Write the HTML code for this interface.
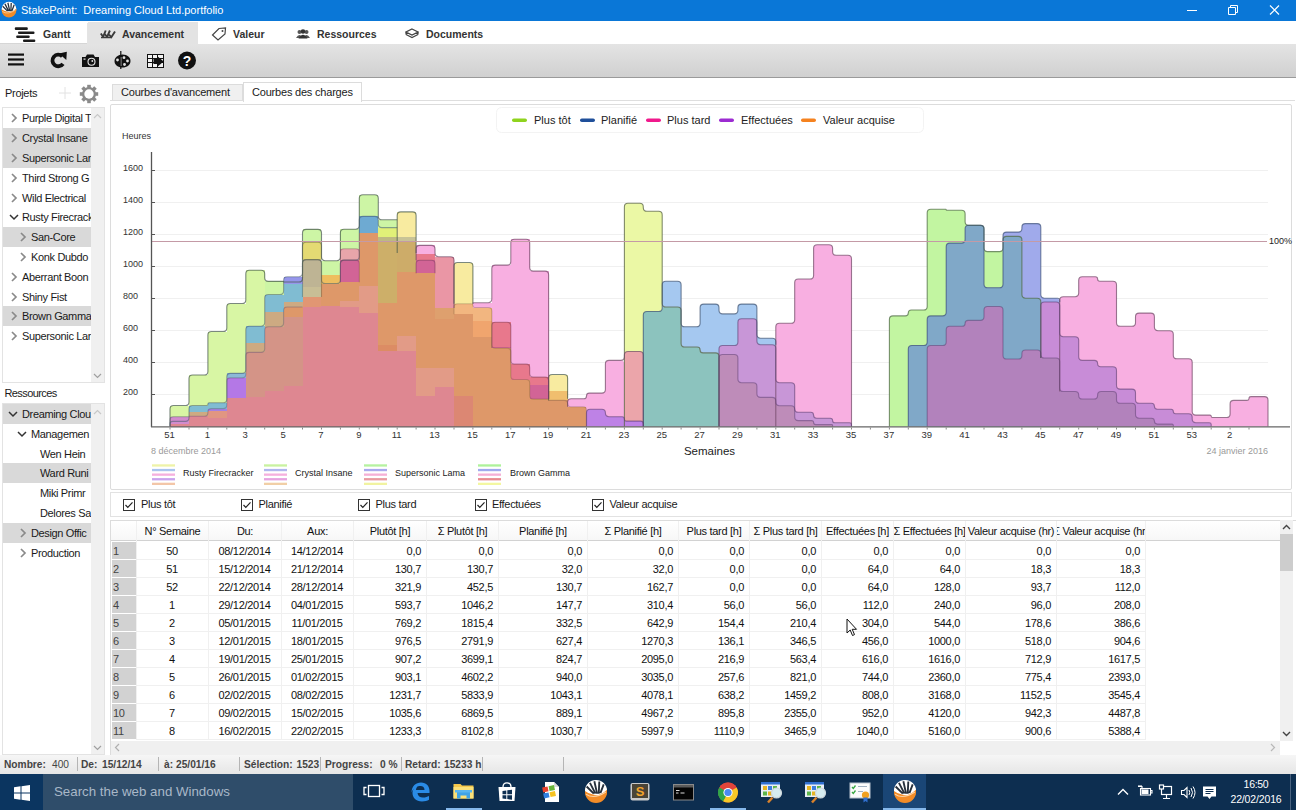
<!DOCTYPE html><html><head><meta charset="utf-8"><title>StakePoint</title><style>
*{box-sizing:border-box;margin:0;padding:0}
html,body{width:1296px;height:810px;overflow:hidden;background:#fff;font-family:"Liberation Sans",sans-serif;color:#222}
.abs{position:absolute}
#titlebar{position:absolute;left:0;top:0;width:1296px;height:21px;background:#0a77d7;color:#fff;font-size:11px}
#titlebar .t{position:absolute;left:21px;top:4px;white-space:nowrap}
#tabs{position:absolute;left:0;top:21px;width:1296px;height:23px;background:#fff}
#tabs .sel{position:absolute;left:88px;top:1px;width:110px;height:22px;background:#e3e3e3}
#tabs .lab{position:absolute;top:7px;font-size:10.5px;font-weight:bold;color:#333;white-space:nowrap}
#toolbar{position:absolute;left:0;top:44px;width:1296px;height:34px;background:linear-gradient(#e4e4e4,#d0d0d0);border-bottom:1px solid #9a9a9a}
#status{position:absolute;left:0;top:755px;width:1296px;height:19px;background:linear-gradient(#f6f6f6,#e6e6e6);font-size:10.2px;font-weight:bold;color:#444}
#status span{position:absolute;top:3.500px;white-space:nowrap}
#status i{position:absolute;top:2px;width:1px;height:14px;background:#b5b5b5}
#taskbar{position:absolute;left:0;top:774px;width:1296px;height:36px;background:#0d2e50}
.side{position:absolute;font-size:11px;letter-spacing:-.3px;color:#1a1a1a;white-space:nowrap}
.row{position:absolute;left:0;height:20px;line-height:20px;white-space:nowrap;overflow:hidden}
.rowsel{background:#d9d9d9}
.chev{position:absolute;top:0;left:0}
td,th{font-weight:normal}
.cell{position:absolute;font-size:11px;letter-spacing:-.3px;color:#111;white-space:nowrap;height:18px;line-height:18px}
</style></head><body>
<div id="titlebar">
<svg class="abs" style="left:0;top:0" width="20" height="21" viewBox="0 0 20 21"><g transform="translate(9 10) scale(.74)"><circle cx="0" cy="0" r="10" fill="#f28c28"/><path d="M-10 -1 A10 10 0 0 1 10 -1 Q4 4 -2 2.500 Q-7 1.500 -10 -1Z" fill="#fff"/><path d="M-8.500 -5 L-2 1.500 M-5.500 -8.300 L-0.500 1.500 M-1.500 -9.800 L1 1.500 M3 -9.500 L2.500 1.500 M7 -7 L4 1" stroke="#26303c" stroke-width="1.700" fill="none"/><path d="M-10 0 Q-3 5 3 2.500 Q7 1 10 -2 A10 10 0 0 1 -10 0Z" fill="#f28c28"/><path d="M-9 2 Q-2 7 9 0" stroke="#fbd3a6" stroke-width="1" fill="none"/></g></svg>
<div class="t">StakePoint:&nbsp; Dreaming Cloud Ltd.portfolio</div>
<svg class="abs" style="left:1180px;top:0" width="116" height="21" viewBox="0 0 116 21"><path d="M7 10.5h10" stroke="#fff" stroke-width="1"/><path d="M48.5 7.5h7v7h-7z M50.5 7.5v-2h7v7h-2" fill="none" stroke="#fff" stroke-width="1"/><path d="M90 5.5l9 9M99 5.5l-9 9" stroke="#fff" stroke-width="1.2"/></svg>
</div>
<div id="tabs"><div class="sel"></div>
<div class="abs" style="left:0;top:22px;width:88px;height:1px;background:#d6d6d6"></div><div class="abs" style="left:87px;top:2px;width:1px;height:21px;background:#e4e4e4"></div>
<svg class="abs" style="left:14px;top:6px" width="24" height="16" viewBox="0 0 24 16"><g fill="#1c1c1c"><rect x="0.800" y="0.300" width="13" height="2.600" rx="1"/><rect x="4" y="4.400" width="16.500" height="2.600" rx="1"/><rect x="2.200" y="8.500" width="13.500" height="2.600" rx="1"/><rect x="9" y="12.500" width="12.300" height="2.600" rx="1"/></g></svg>
<div class="lab" style="left:43px">Gantt</div>
<svg class="abs" style="left:100px;top:8px" width="16" height="10" viewBox="0 0 16 10"><g fill="none" stroke="#3a3a3a" stroke-width="1.900" stroke-linejoin="round"><path d="M0.800 4.500 l2.300 3.300 l2.600 -6.300"/><path d="M4.800 5 l2.300 3 l2.800 -6.500"/><path d="M9 5.500 l2.300 2.700 l3.700 -5.700"/></g><path d="M1 8.500 h11" stroke="#3a3a3a" stroke-width="1.500"/></svg>
<div class="lab" style="left:122px">Avancement</div>
<svg class="abs" style="left:211px;top:6px" width="16" height="14" viewBox="0 0 16 14"><path d="M8 1.5 L14.5 1 L14 7 L7 13 L1.5 8Z" fill="none" stroke="#444" stroke-width="1.2"/><circle cx="11.5" cy="4" r="1" fill="#444"/></svg>
<div class="lab" style="left:233px">Valeur</div>
<svg class="abs" style="left:296px;top:8px" width="14" height="10" viewBox="0 0 14 10"><circle cx="3.5" cy="3" r="2" fill="#555"/><circle cx="10.5" cy="3" r="2" fill="#555"/><circle cx="7" cy="2.5" r="2.3" fill="#333"/><path d="M0 9 Q3.5 3 7 9Z M7 9 Q10.5 3 14 9Z" fill="#555"/><path d="M2.5 9.5 Q7 2 11.5 9.5Z" fill="#333"/></svg>
<div class="lab" style="left:317px">Ressources</div>
<svg class="abs" style="left:405px;top:7px" width="14" height="12" viewBox="0 0 14 12"><path d="M7 1 L13 4 L7 7 L1 4Z M1 6.5 L7 9.5 L13 6.5 M1 4v2.5 M13 4v2.5" fill="none" stroke="#444" stroke-width="1.2"/></svg>
<div class="lab" style="left:426px">Documents</div>
</div>
<div id="toolbar">
<svg class="abs" style="left:0;top:0" width="210" height="33" viewBox="0 0 210 33">
<g fill="#111"><rect x="8" y="9.5" width="16" height="2.2"/><rect x="8" y="14.4" width="16" height="2.2"/><rect x="8" y="19.3" width="16" height="2.2"/></g>
<path d="M62.300 12.300 A5.800 5.800 0 1 0 63 19.800" fill="none" stroke="#111" stroke-width="3.800"/><path d="M59 9.500 L66.800 7.800 L66.300 16Z" fill="#111"/>
<path d="M82 13h3.500l1.500-2.500h6.500l1.500 2.500h4v10H82z" fill="#111"/><circle cx="91.500" cy="17.800" r="3.500" fill="#111" stroke="#e6e6e6" stroke-width="1.100"/><circle cx="92.300" cy="17" r="0.900" fill="#e6e6e6"/><rect x="83.500" y="14.500" width="2" height="1.200" fill="#e6e6e6"/>
<path d="M122.500 10.500 C127.500 10.500 130.500 13.500 130.500 17 C130.500 21 127 23.500 122.500 23.500 C118 23.500 114.500 21 114.500 17 C114.500 13.500 118 10.500 122.500 10.500Z" fill="#111"/><circle cx="117.500" cy="16" r="1.400" fill="#e0e0e0"/><circle cx="124" cy="13.700" r="1.400" fill="#e0e0e0"/><circle cx="127.500" cy="17" r="1.400" fill="#e0e0e0"/><circle cx="124.500" cy="20.500" r="1.400" fill="#e0e0e0"/><rect x="120" y="13" width="1.600" height="9" fill="#e0e0e0"/><rect x="120.200" y="7" width="1.200" height="18" fill="#111"/>
<g shape-rendering="crispEdges"><rect x="147" y="10" width="16" height="13" fill="#f2f2f2" stroke="#111" stroke-width="1"/><path d="M147 14.500h16 M147 18.500h16 M152.500 10v13 M157.500 10v13" stroke="#111" stroke-width="1" fill="none"/></g><path d="M153.500 15 h4.500 v-2.300 l5.700 4.800 l-5.700 4.800 v-2.300 h-4.500z" fill="#111"/>
<circle cx="187" cy="16.5" r="9" fill="#111"/><text x="187" y="21.5" font-size="14" font-weight="bold" fill="#fff" text-anchor="middle" font-family="Liberation Sans, sans-serif">?</text>
</svg></div>
<div class="abs" style="left:0;top:78px;width:1296px;height:677px;background:#fff"></div>
<div class="side" style="left:5px;top:86.500px">Projets</div>
<svg class="abs" style="left:58px;top:86px" width="14" height="14" viewBox="0 0 14 14"><path d="M7 1v12M1 7h12" stroke="#e2e2e2" stroke-width="1"/></svg>
<svg class="abs" style="left:79px;top:84px" width="20" height="20" viewBox="0 0 20 20"><g fill="#8a8a8a"><circle cx="10" cy="10" r="7"/><rect x="8.2" y="0.8" width="3.6" height="4" transform="rotate(0 10 10)"/><rect x="8.2" y="0.8" width="3.6" height="4" transform="rotate(45 10 10)"/><rect x="8.2" y="0.8" width="3.6" height="4" transform="rotate(90 10 10)"/><rect x="8.2" y="0.8" width="3.6" height="4" transform="rotate(135 10 10)"/><rect x="8.2" y="0.8" width="3.6" height="4" transform="rotate(180 10 10)"/><rect x="8.2" y="0.8" width="3.6" height="4" transform="rotate(225 10 10)"/><rect x="8.2" y="0.8" width="3.6" height="4" transform="rotate(270 10 10)"/><rect x="8.2" y="0.8" width="3.6" height="4" transform="rotate(315 10 10)"/></g><circle cx="10" cy="10" r="4.700" fill="#fff"/></svg>
<div class="abs" style="left:2px;top:106.500px;width:103px;height:276.500px;border:1px solid #e3e3e3;background:#fff"></div>
<div class="abs" style="left:91px;top:107.500px;width:13px;height:274.500px;background:#f0f0f0"></div>
<svg class="abs" style="left:93px;top:112.500px" width="9" height="6" viewBox="0 0 9 6"><path d="M1 5 L4.5 1.5 L8 5" fill="none" stroke="#c8c8c8" stroke-width="1.2"/></svg>
<svg class="abs" style="left:93px;top:373px" width="9" height="6" viewBox="0 0 9 6"><path d="M1 1 L4.5 4.5 L8 1" fill="none" stroke="#a0a0a0" stroke-width="1.2"/></svg>
<div class="abs" style="left:3px;top:107px;width:88px;height:275px;overflow:hidden;font-size:11px;letter-spacing:-.35px;color:#1a1a1a">
<div class="row" style="top:1.3px;width:88px">
<svg class="abs" style="left:7px;top:5px" width="8" height="10" viewBox="0 0 8 10"><path d="M2 1 L6 5 L2 9" fill="none" stroke="#8a8a8a" stroke-width="1.700"/></svg>
<span style="position:absolute;left:19px">Purple Digital T</span></div>
<div class="row rowsel" style="top:21.1px;width:88px">
<svg class="abs" style="left:7px;top:5px" width="8" height="10" viewBox="0 0 8 10"><path d="M2 1 L6 5 L2 9" fill="none" stroke="#8a8a8a" stroke-width="1.700"/></svg>
<span style="position:absolute;left:19px">Crystal Insane</span></div>
<div class="row rowsel" style="top:40.9px;width:88px">
<svg class="abs" style="left:7px;top:5px" width="8" height="10" viewBox="0 0 8 10"><path d="M2 1 L6 5 L2 9" fill="none" stroke="#8a8a8a" stroke-width="1.700"/></svg>
<span style="position:absolute;left:19px">Supersonic Lar</span></div>
<div class="row" style="top:60.7px;width:88px">
<svg class="abs" style="left:7px;top:5px" width="8" height="10" viewBox="0 0 8 10"><path d="M2 1 L6 5 L2 9" fill="none" stroke="#8a8a8a" stroke-width="1.700"/></svg>
<span style="position:absolute;left:19px">Third Strong G</span></div>
<div class="row" style="top:80.5px;width:88px">
<svg class="abs" style="left:7px;top:5px" width="8" height="10" viewBox="0 0 8 10"><path d="M2 1 L6 5 L2 9" fill="none" stroke="#8a8a8a" stroke-width="1.700"/></svg>
<span style="position:absolute;left:19px">Wild Electrical</span></div>
<div class="row" style="top:100.3px;width:88px">
<svg class="abs" style="left:6px;top:6px" width="10" height="8" viewBox="0 0 10 8"><path d="M1 2 L5 6 L9 2" fill="none" stroke="#333" stroke-width="1.5"/></svg>
<span style="position:absolute;left:19px">Rusty Firecrack</span></div>
<div class="row rowsel" style="top:120.1px;width:88px">
<svg class="abs" style="left:16px;top:5px" width="8" height="10" viewBox="0 0 8 10"><path d="M2 1 L6 5 L2 9" fill="none" stroke="#8a8a8a" stroke-width="1.700"/></svg>
<span style="position:absolute;left:28px">San-Core</span></div>
<div class="row" style="top:139.9px;width:88px">
<svg class="abs" style="left:16px;top:5px" width="8" height="10" viewBox="0 0 8 10"><path d="M2 1 L6 5 L2 9" fill="none" stroke="#8a8a8a" stroke-width="1.700"/></svg>
<span style="position:absolute;left:28px">Konk Dubdo</span></div>
<div class="row" style="top:159.7px;width:88px">
<svg class="abs" style="left:7px;top:5px" width="8" height="10" viewBox="0 0 8 10"><path d="M2 1 L6 5 L2 9" fill="none" stroke="#8a8a8a" stroke-width="1.700"/></svg>
<span style="position:absolute;left:19px">Aberrant Boon</span></div>
<div class="row" style="top:179.5px;width:88px">
<svg class="abs" style="left:7px;top:5px" width="8" height="10" viewBox="0 0 8 10"><path d="M2 1 L6 5 L2 9" fill="none" stroke="#8a8a8a" stroke-width="1.700"/></svg>
<span style="position:absolute;left:19px">Shiny Fist</span></div>
<div class="row rowsel" style="top:199.3px;width:88px">
<svg class="abs" style="left:7px;top:5px" width="8" height="10" viewBox="0 0 8 10"><path d="M2 1 L6 5 L2 9" fill="none" stroke="#8a8a8a" stroke-width="1.700"/></svg>
<span style="position:absolute;left:19px">Brown Gamma</span></div>
<div class="row" style="top:219.1px;width:88px">
<svg class="abs" style="left:7px;top:5px" width="8" height="10" viewBox="0 0 8 10"><path d="M2 1 L6 5 L2 9" fill="none" stroke="#8a8a8a" stroke-width="1.700"/></svg>
<span style="position:absolute;left:19px">Supersonic Lar</span></div>
</div>
<div class="side" style="left:4.500px;top:386.500px;letter-spacing:-.6px">Ressources</div>
<div class="abs" style="left:2px;top:403px;width:103px;height:352px;border:1px solid #e3e3e3;background:#fff"></div>
<div class="abs" style="left:91px;top:404px;width:13px;height:350px;background:#f0f0f0"></div>
<svg class="abs" style="left:93px;top:409px" width="9" height="6" viewBox="0 0 9 6"><path d="M1 5 L4.5 1.5 L8 5" fill="none" stroke="#c8c8c8" stroke-width="1.2"/></svg>
<svg class="abs" style="left:93px;top:745px" width="9" height="6" viewBox="0 0 9 6"><path d="M1 1 L4.5 4.500 L8 1" fill="none" stroke="#a0a0a0" stroke-width="1.2"/></svg>
<div class="abs" style="left:3px;top:404px;width:88px;height:350px;overflow:hidden;font-size:11px;letter-spacing:-.35px;color:#1a1a1a">
<div class="row rowsel" style="top:0.0px;width:88px">
<svg class="abs" style="left:5px;top:6px" width="10" height="8" viewBox="0 0 10 8"><path d="M1 2 L5 6 L9 2" fill="none" stroke="#333" stroke-width="1.5"/></svg>
<span style="position:absolute;left:19px">Dreaming Clou</span></div>
<div class="row" style="top:19.8px;width:88px">
<svg class="abs" style="left:14px;top:6px" width="10" height="8" viewBox="0 0 10 8"><path d="M1 2 L5 6 L9 2" fill="none" stroke="#333" stroke-width="1.5"/></svg>
<span style="position:absolute;left:28px">Managemen</span></div>
<div class="row" style="top:39.6px;width:88px">
<span style="position:absolute;left:37px">Wen Hein</span></div>
<div class="row rowsel" style="top:59.4px;width:88px">
<span style="position:absolute;left:37px">Ward Runi</span></div>
<div class="row" style="top:79.2px;width:88px">
<span style="position:absolute;left:37px">Miki Primr</span></div>
<div class="row" style="top:99.0px;width:88px">
<span style="position:absolute;left:37px">Delores Sar</span></div>
<div class="row rowsel" style="top:118.8px;width:88px">
<svg class="abs" style="left:16px;top:5px" width="8" height="10" viewBox="0 0 8 10"><path d="M2 1 L6 5 L2 9" fill="none" stroke="#8a8a8a" stroke-width="1.700"/></svg>
<span style="position:absolute;left:28px">Design Offic</span></div>
<div class="row" style="top:138.6px;width:88px">
<svg class="abs" style="left:16px;top:5px" width="8" height="10" viewBox="0 0 8 10"><path d="M2 1 L6 5 L2 9" fill="none" stroke="#8a8a8a" stroke-width="1.700"/></svg>
<span style="position:absolute;left:28px">Production</span></div>
</div>
<div class="abs" style="left:110px;top:100px;width:1185px;height:1px;background:#dedede"></div>
<div class="abs" style="left:112px;top:84px;width:131px;height:16px;background:#f0f0f0;border:1px solid #dcdcdc;border-bottom:none"></div>
<div class="abs" style="left:243px;top:82px;width:119px;height:20px;background:#fff;border:1px solid #dcdcdc;border-bottom:none"></div>
<div class="side" style="left:121px;top:86px;letter-spacing:-.2px">Courbes d'avancement</div>
<div class="side" style="left:252px;top:86px;letter-spacing:-.2px">Courbes des charges</div>
<div class="abs" style="left:110px;top:104px;width:1182px;height:386px;border:1px solid #dcdcdc;background:#fff;border-radius:2px"></div>
<svg class="abs" style="left:0;top:0" width="1296" height="500" viewBox="0 0 1296 500" font-family="Liberation Sans, sans-serif">
<rect x="496.5" y="107.5" width="427" height="25" rx="5" fill="#fff" stroke="#f3f3f3"/>
<rect x="512" y="118.500" width="15" height="3.600" rx="1.800" fill="#8fd31e"/>
<text x="534" y="124.300" font-size="11" fill="#222">Plus tôt</text>
<rect x="580" y="118.500" width="15" height="3.600" rx="1.800" fill="#1f4f9a"/>
<text x="601" y="124.300" font-size="11" fill="#222">Planifié</text>
<rect x="646" y="118.500" width="15" height="3.600" rx="1.800" fill="#f0198c"/>
<text x="667" y="124.300" font-size="11" fill="#222">Plus tard</text>
<rect x="719" y="118.500" width="15" height="3.600" rx="1.800" fill="#9c2bd1"/>
<text x="741" y="124.300" font-size="11" fill="#222">Effectuées</text>
<rect x="801" y="118.500" width="15" height="3.600" rx="1.800" fill="#f5821f"/>
<text x="823" y="124.300" font-size="11" fill="#222">Valeur acquise</text>
<path d="M151 394.5 H1268" stroke="#f0f0f0" stroke-width="1"/>
<path d="M151 362.5 H1268" stroke="#f0f0f0" stroke-width="1"/>
<path d="M151 330.5 H1268" stroke="#f0f0f0" stroke-width="1"/>
<path d="M151 298.5 H1268" stroke="#f0f0f0" stroke-width="1"/>
<path d="M151 266.5 H1268" stroke="#f0f0f0" stroke-width="1"/>
<path d="M151 234.5 H1268" stroke="#f0f0f0" stroke-width="1"/>
<path d="M151 202.5 H1268" stroke="#f0f0f0" stroke-width="1"/>
<path d="M151 170.5 H1268" stroke="#f0f0f0" stroke-width="1"/>
<text x="122" y="139" font-size="9" fill="#333">Heures</text>
<text x="123" y="395.1" font-size="9" fill="#333">200</text>
<text x="123" y="363.1" font-size="9" fill="#333">400</text>
<text x="123" y="331.1" font-size="9" fill="#333">600</text>
<text x="123" y="299.1" font-size="9" fill="#333">800</text>
<text x="123" y="267.1" font-size="9" fill="#333">1000</text>
<text x="123" y="235.1" font-size="9" fill="#333">1200</text>
<text x="123" y="203.1" font-size="9" fill="#333">1400</text>
<text x="123" y="171.1" font-size="9" fill="#333">1600</text>
<path d="M624.4 426.5 L624.4 206.9 Q624.4 203.3 628 203.3 L639.7 203.3 Q643.3 203.3 643.3 206.9 L643.3 207.7 Q643.3 211.3 646.9 211.3 L658.6 211.3 Q662.2 211.3 662.2 214.9 L662.2 303.4 Q662.2 307 665.8 307 L677.5 307 Q681.1 307 681.1 310.6 L681.1 343.4 Q681.1 347 684.7 347 L697.1 347 Q700.1 347 700.1 349.9 L700.1 349.9 Q700.1 352.9 703 352.9 L715.4 352.9 Q719 352.9 719 356.5 L719 426.5 Z" fill="rgb(235,248,165)"/>
<path d="M567.6 426.5 L567.6 402.3 Q567.6 398.7 571.2 398.7 L583.7 398.7 Q586.5 398.7 586.5 395.9 L586.5 395.9 Q586.5 393.1 589.3 393.1 L601.8 393.1 Q605.4 393.1 605.4 389.5 L605.4 364 Q605.4 360.4 609 360.4 L620.8 360.4 Q624.4 360.4 624.4 364 L624.4 426.5 Z" fill="rgb(248,175,225)"/>
<path d="M624.4 426.5 L624.4 355.1 Q624.4 351.5 628 351.5 L639.7 351.5 Q643.3 351.5 643.3 355.1 L643.3 426.5 Z" fill="rgb(235,165,170)"/>
<path d="M775.8 426.5 L775.8 326.9 Q775.8 323.3 779.4 323.3 L791.1 323.3 Q794.7 323.3 794.7 319.7 L794.7 282.6 Q794.7 279 798.3 279 L810 279 Q813.6 279 813.6 275.4 L813.6 248.3 Q813.6 244.7 817.2 244.7 L829 244.7 Q832.6 244.7 832.6 248.3 L832.6 251.7 Q832.6 255.3 836.2 255.3 L847.9 255.3 Q851.5 255.3 851.5 258.9 L851.5 426.5 Z" fill="rgb(248,175,225)"/>
<path d="M643.3 426.5 L643.3 315.1 Q643.3 311.5 646.9 311.5 L658.6 311.5 Q662.2 311.5 662.2 307.9 L662.2 284.8 Q662.2 281.2 665.8 281.2 L677.5 281.2 Q681.1 281.2 681.1 284.8 L681.1 323.2 Q681.1 326.8 684.7 326.8 L696.5 326.8 Q700.1 326.8 700.1 323.2 L700.1 307.7 Q700.1 304.1 703.7 304.1 L715.4 304.1 Q719 304.1 719 307.7 L719 310.3 Q719 313.9 722.6 313.9 L734.3 313.9 Q737.9 313.9 737.9 310.3 L737.9 307.7 Q737.9 304.1 741.5 304.1 L753.3 304.1 Q756.9 304.1 756.9 307.7 L756.9 334.6 Q756.9 338.2 760.5 338.2 L772.2 338.2 Q775.8 338.2 775.8 341.8 L775.8 426.5 Z" fill="rgb(165,200,240)"/>
<path d="M643.3 426.5 L643.3 315.1 Q643.3 311.5 646.9 311.5 L660 311.5 Q662.2 311.5 662.2 309.2 L662.2 309.2 Q662.2 307 664.5 307 L677.5 307 Q681.1 307 681.1 310.6 L681.1 343.4 Q681.1 347 684.7 347 L697.1 347 Q700.1 347 700.1 349.9 L700.1 349.9 Q700.1 352.9 703 352.9 L715.4 352.9 Q719 352.9 719 356.5 L719 426.5 Z" fill="rgb(140,195,190)"/>
<path d="M586.5 426.5 L586.5 412.8 Q586.5 409.2 590.1 409.2 L601.8 409.2 Q605.4 409.2 605.4 412.8 L605.4 413.1 Q605.4 416.7 609 416.7 L622.2 416.7 Q624.4 416.7 624.4 418.9 L624.4 418.9 Q624.4 421.1 626.5 421.1 L640.6 421.1 Q643.3 421.1 643.3 423.8 L643.3 426.5 Z" fill="rgb(190,130,230)"/>
<path d="M719 426.5 L719 349.1 Q719 345.5 722.6 345.5 L734.3 345.5 Q737.9 345.5 737.9 341.9 L737.9 322.4 Q737.9 318.8 741.5 318.8 L753.3 318.8 Q756.9 318.8 756.9 322.4 L756.9 341.1 Q756.9 344.7 760.5 344.7 L772.2 344.7 Q775.8 344.7 775.8 348.3 L775.8 379.1 Q775.8 382.7 779.4 382.7 L791.1 382.7 Q794.7 382.7 794.7 386.3 L794.7 408.7 Q794.7 412.3 798.3 412.3 L810.7 412.3 Q813.6 412.3 813.6 415.2 L813.6 415.2 Q813.6 418.2 816.6 418.2 L830.3 418.2 Q832.6 418.2 832.6 420.4 L832.6 420.4 Q832.6 422.7 834.8 422.7 L849.6 422.7 Q851.5 422.7 851.5 424.6 L851.5 426.5 Z" fill="rgb(200,150,215)"/>
<path d="M719 426.5 L719 358.1 Q719 354.5 722.6 354.5 L734.3 354.5 Q737.9 354.5 737.9 358.1 L737.9 379.1 Q737.9 382.7 741.5 382.7 L753.3 382.7 Q756.9 382.7 756.9 386.3 L756.9 393.8 Q756.9 397.4 760.5 397.4 L772.2 397.4 Q775.8 397.4 775.8 401 L775.8 402.1 Q775.8 405.7 779.4 405.7 L791.1 405.7 Q794.7 405.7 794.7 409.3 L794.7 417 Q794.7 420.6 798.3 420.6 L811.6 420.6 Q813.6 420.6 813.6 422.6 L813.6 422.6 Q813.6 424.6 815.6 424.6 L831.6 424.6 Q832.6 424.6 832.6 425.5 L832.6 426.5 Z" fill="rgb(190,140,185)"/>
<path d="M889.4 426.5 L889.4 319.5 Q889.4 315.9 893 315.9 L905.3 315.9 Q908.3 315.9 908.3 313 L908.3 313 Q908.3 310 911.3 310 L923.6 310 Q927.2 310 927.2 306.4 L927.2 212.8 Q927.2 209.2 930.8 209.2 L945.7 209.2 Q946.2 209.2 946.2 209.7 L946.2 209.7 Q946.2 210.2 946.6 210.2 L961.5 210.2 Q965.1 210.2 965.1 213.8 L965.1 221.8 Q965.1 225.4 968.7 225.4 L980.4 225.4 Q984 225.4 984 229 L984 248 Q984 251.6 987.6 251.6 L999.4 251.6 Q1003 251.6 1003 248 L1003 240 Q1003 236.4 1006.6 236.4 L1018.3 236.4 Q1021.9 236.4 1021.9 240 L1021.9 294.6 Q1021.9 298.2 1025.5 298.2 L1037.2 298.2 Q1040.8 298.2 1040.8 301.8 L1040.8 426.5 Z" fill="rgb(194,245,161)"/>
<path d="M908.3 426.5 L908.3 349.1 Q908.3 345.5 911.9 345.5 L923.6 345.5 Q927.2 345.5 927.2 341.9 L927.2 319.5 Q927.2 315.9 930.8 315.9 L942.6 315.9 Q946.2 315.9 946.2 312.3 L946.2 246.7 Q946.2 243.1 949.8 243.1 L961.5 243.1 Q965.1 243.1 965.1 239.5 L965.1 228.8 Q965.1 225.2 968.7 225.2 L980.4 225.2 Q984 225.2 984 228.8 L984 284.2 Q984 287.8 987.6 287.8 L999.4 287.8 Q1003 287.8 1003 284.2 L1003 235.7 Q1003 232.1 1006.6 232.1 L1018.3 232.1 Q1021.9 232.1 1021.9 228.5 L1021.9 227.2 Q1021.9 223.6 1025.5 223.6 L1037.2 223.6 Q1040.8 223.6 1040.8 227.2 L1040.8 294.6 Q1040.8 298.2 1044.4 298.2 L1056.1 298.2 Q1059.7 298.2 1059.7 301.8 L1059.7 426.5 Z" fill="rgb(160,170,235)"/>
<path d="M908.3 426.5 L908.3 349.1 Q908.3 345.5 911.9 345.5 L923.6 345.5 Q927.2 345.5 927.2 341.9 L927.2 319.5 Q927.2 315.9 930.8 315.9 L942.6 315.9 Q946.2 315.9 946.2 312.3 L946.2 246.7 Q946.2 243.1 949.8 243.1 L961.5 243.1 Q965.1 243.1 965.1 239.5 L965.1 229 Q965.1 225.4 968.7 225.4 L980.4 225.4 Q984 225.4 984 229 L984 284.2 Q984 287.8 987.6 287.8 L999.4 287.8 Q1003 287.8 1003 284.2 L1003 240 Q1003 236.4 1006.6 236.4 L1018.3 236.4 Q1021.9 236.4 1021.9 240 L1021.9 294.6 Q1021.9 298.2 1025.5 298.2 L1037.2 298.2 Q1040.8 298.2 1040.8 301.8 L1040.8 426.5 Z" fill="rgb(128,168,200)"/>
<path d="M1059.7 426.5 L1059.7 300.3 Q1059.7 296.7 1063.3 296.7 L1075.1 296.7 Q1078.7 296.7 1078.7 293.1 L1078.7 280.3 Q1078.7 276.7 1082.3 276.7 L1095.4 276.7 Q1097.6 276.7 1097.6 279 L1097.6 279 Q1097.6 281.2 1099.8 281.2 L1112.9 281.2 Q1116.5 281.2 1116.5 284.8 L1116.5 322.7 Q1116.5 326.3 1120.1 326.3 L1131.9 326.3 Q1135.5 326.3 1135.5 322.7 L1135.5 316.7 Q1135.5 313.1 1139.1 313.1 L1150.8 313.1 Q1154.4 313.1 1154.4 316.7 L1154.4 327.1 Q1154.4 330.7 1158 330.7 L1169.7 330.7 Q1173.3 330.7 1173.3 334.3 L1173.3 355.2 Q1173.3 358.8 1176.9 358.8 L1188.7 358.8 Q1192.2 358.8 1192.2 362.4 L1192.2 411.5 Q1192.2 415.1 1195.8 415.1 L1210 415.1 Q1211.2 415.1 1211.2 416.3 L1211.2 416.3 Q1211.2 417.5 1212.4 417.5 L1226.5 417.5 Q1230.1 417.5 1230.1 413.9 L1230.1 404 Q1230.1 400.4 1233.7 400.4 L1247.1 400.4 Q1249 400.4 1249 398.5 L1249 398.5 Q1249 396.6 1251 396.6 L1264.4 396.6 Q1268 396.6 1268 400.2 L1268 426.5 Z" fill="rgb(248,175,225)"/>
<path d="M1040.8 426.5 L1040.8 305.6 Q1040.8 302 1044.4 302 L1056.1 302 Q1059.7 302 1059.7 305.6 L1059.7 333.1 Q1059.7 336.7 1063.3 336.7 L1075.1 336.7 Q1078.7 336.7 1078.7 340.3 L1078.7 356.8 Q1078.7 360.4 1082.3 360.4 L1094.4 360.4 Q1097.6 360.4 1097.6 363.6 L1097.6 363.6 Q1097.6 366.8 1100.8 366.8 L1112.9 366.8 Q1116.5 366.8 1116.5 370.4 L1116.5 385.5 Q1116.5 389.1 1120.1 389.1 L1131.9 389.1 Q1135.5 389.1 1135.5 392.7 L1135.5 399.7 Q1135.5 403.3 1139.1 403.3 L1151.4 403.3 Q1154.4 403.3 1154.4 406.3 L1154.4 406.3 Q1154.4 409.2 1157.3 409.2 L1171.1 409.2 Q1173.3 409.2 1173.3 411.5 L1173.3 411.5 Q1173.3 413.7 1175.6 413.7 L1188.7 413.7 Q1192.2 413.7 1192.2 417.3 L1192.2 419.1 Q1192.2 422.7 1195.8 422.7 L1209.3 422.7 Q1211.2 422.7 1211.2 424.6 L1211.2 426.5 Z" fill="rgb(200,140,215)"/>
<path d="M927.2 426.5 L927.2 349.1 Q927.2 345.5 930.8 345.5 L942.6 345.5 Q946.2 345.5 946.2 341.9 L946.2 329.9 Q946.2 326.3 949.8 326.3 L962.1 326.3 Q965.1 326.3 965.1 323.4 L965.1 323.4 Q965.1 320.4 968.1 320.4 L980.4 320.4 Q984 320.4 984 316.8 L984 310.1 Q984 306.5 987.6 306.5 L999.4 306.5 Q1003 306.5 1003 310.1 L1003 355.4 Q1003 359 1006.6 359 L1018.3 359 Q1021.9 359 1021.9 355.4 L1021.9 353.6 Q1021.9 350 1025.5 350 L1037.2 350 Q1040.8 350 1040.8 353.6 L1040.8 354.4 Q1040.8 358 1044.4 358 L1056.1 358 Q1059.7 358 1059.7 361.6 L1059.7 387.9 Q1059.7 391.5 1063.3 391.5 L1075.1 391.5 Q1078.7 391.5 1078.7 395.1 L1078.7 395.4 Q1078.7 399 1082.3 399 L1094 399 Q1097.6 399 1097.6 395.4 L1097.6 395.1 Q1097.6 391.5 1101.2 391.5 L1112.9 391.5 Q1116.5 391.5 1116.5 395.1 L1116.5 399.7 Q1116.5 403.3 1120.1 403.3 L1131.9 403.3 Q1135.5 403.3 1135.5 406.9 L1135.5 414.6 Q1135.5 418.2 1139.1 418.2 L1151.4 418.2 Q1154.4 418.2 1154.4 421.1 L1154.4 421.1 Q1154.4 424.1 1157.3 424.1 L1172.1 424.1 Q1173.3 424.1 1173.3 425.3 L1173.3 426.5 Z" fill="rgb(178,130,188)"/>
<g shape-rendering="crispEdges">
<rect x="170" y="405.5" width="19" height="21" fill="rgb(216,246,164)"/>
<rect x="170" y="416.6" width="19" height="9.9" fill="rgb(210,140,205)"/>
<rect x="170" y="423.6" width="19" height="2.9" fill="rgb(222,135,145)"/>
<rect x="189" y="375" width="19" height="51.5" fill="rgb(216,246,164)"/>
<rect x="189" y="405.5" width="19" height="21" fill="rgb(128,188,210)"/>
<rect x="189" y="411.5" width="19" height="15" fill="rgb(205,170,130)"/>
<rect x="189" y="416.3" width="19" height="10.2" fill="rgb(222,135,145)"/>
<rect x="208" y="331.5" width="19" height="95" fill="rgb(216,246,164)"/>
<rect x="208" y="402.8" width="19" height="23.7" fill="rgb(128,188,210)"/>
<rect x="208" y="408.6" width="19" height="17.9" fill="rgb(165,130,225)"/>
<rect x="208" y="411.1" width="19" height="15.4" fill="rgb(225,150,130)"/>
<rect x="208" y="417.5" width="19" height="9" fill="rgb(222,135,145)"/>
<rect x="227" y="303.5" width="19" height="123" fill="rgb(216,246,164)"/>
<rect x="227" y="373.4" width="19" height="53.1" fill="rgb(140,185,215)"/>
<rect x="227" y="377.9" width="19" height="48.6" fill="rgb(180,120,230)"/>
<rect x="227" y="398" width="19" height="28.5" fill="rgb(222,135,145)"/>
<rect x="246" y="270.2" width="19" height="156.3" fill="rgb(216,246,164)"/>
<rect x="246" y="326.2" width="19" height="100.3" fill="rgb(128,188,210)"/>
<rect x="246" y="343.1" width="19" height="83.4" fill="rgb(205,170,130)"/>
<rect x="246" y="352.4" width="19" height="74.1" fill="rgb(212,148,135)"/>
<rect x="246" y="397.2" width="19" height="29.3" fill="rgb(222,135,145)"/>
<rect x="265" y="281.4" width="19" height="145.1" fill="rgb(205,245,165)"/>
<rect x="265" y="294.5" width="19" height="132" fill="rgb(128,188,210)"/>
<rect x="265" y="311.9" width="19" height="114.6" fill="rgb(205,170,130)"/>
<rect x="265" y="326.7" width="19" height="99.8" fill="rgb(212,148,135)"/>
<rect x="265" y="390.8" width="19" height="35.7" fill="rgb(222,135,145)"/>
<rect x="284" y="276.7" width="19" height="149.8" fill="rgb(150,150,235)"/>
<rect x="284" y="284.1" width="19" height="142.4" fill="rgb(128,188,210)"/>
<rect x="284" y="302" width="19" height="124.5" fill="rgb(205,170,130)"/>
<rect x="284" y="307" width="19" height="119.5" fill="rgb(222,152,105)"/>
<rect x="284" y="316.7" width="19" height="109.8" fill="rgb(212,148,135)"/>
<rect x="284" y="385.9" width="19" height="40.6" fill="rgb(222,135,145)"/>
<rect x="303" y="229.4" width="18" height="197.1" fill="rgb(205,245,165)"/>
<rect x="303" y="242.2" width="18" height="184.3" fill="rgb(228,218,115)"/>
<rect x="303" y="259.6" width="18" height="166.9" fill="rgb(190,180,148)"/>
<rect x="303" y="287" width="18" height="139.5" fill="rgb(200,190,150)"/>
<rect x="303" y="297.1" width="18" height="129.4" fill="rgb(225,150,115)"/>
<rect x="303" y="307" width="18" height="119.5" fill="rgb(222,135,145)"/>
<rect x="321" y="260.7" width="19" height="165.8" fill="rgb(205,245,165)"/>
<rect x="321" y="274.5" width="19" height="152" fill="rgb(238,190,95)"/>
<rect x="321" y="283.5" width="19" height="143" fill="rgb(222,152,105)"/>
<rect x="321" y="305.7" width="19" height="120.8" fill="rgb(222,135,145)"/>
<rect x="340" y="229.2" width="19" height="197.3" fill="rgb(205,245,165)"/>
<rect x="340" y="248.7" width="19" height="177.8" fill="rgb(232,165,170)"/>
<rect x="340" y="260.1" width="19" height="166.4" fill="rgb(210,100,150)"/>
<rect x="340" y="282.2" width="19" height="144.3" fill="rgb(222,152,105)"/>
<rect x="340" y="300.7" width="19" height="125.8" fill="rgb(226,155,135)"/>
<rect x="340" y="307" width="19" height="119.5" fill="rgb(222,135,145)"/>
<rect x="359" y="194.7" width="19" height="231.8" fill="rgb(205,245,165)"/>
<rect x="359" y="216.4" width="19" height="210.1" fill="rgb(110,170,210)"/>
<rect x="359" y="232.9" width="19" height="193.6" fill="rgb(222,152,105)"/>
<rect x="359" y="286" width="19" height="140.5" fill="rgb(226,155,135)"/>
<rect x="359" y="313.1" width="19" height="113.4" fill="rgb(222,135,145)"/>
<rect x="378" y="219.8" width="19" height="206.7" fill="rgb(205,245,165)"/>
<rect x="378" y="227.6" width="19" height="198.9" fill="rgb(225,240,120)"/>
<rect x="378" y="237.4" width="19" height="189.1" fill="rgb(190,185,130)"/>
<rect x="378" y="240.6" width="19" height="185.9" fill="rgb(205,175,105)"/>
<rect x="378" y="303.3" width="19" height="123.2" fill="rgb(222,152,105)"/>
<rect x="378" y="345.2" width="19" height="81.3" fill="rgb(220,140,100)"/>
<rect x="378" y="351.3" width="19" height="75.2" fill="rgb(222,135,145)"/>
<rect x="397" y="211.9" width="19" height="214.6" fill="rgb(248,235,160)"/>
<rect x="397" y="237.4" width="19" height="189.1" fill="rgb(200,195,150)"/>
<rect x="397" y="240.6" width="19" height="185.9" fill="rgb(205,172,105)"/>
<rect x="397" y="272.3" width="19" height="154.2" fill="rgb(222,152,105)"/>
<rect x="397" y="336.1" width="19" height="90.4" fill="rgb(226,155,135)"/>
<rect x="397" y="351.3" width="19" height="75.2" fill="rgb(222,135,145)"/>
<rect x="416" y="245.4" width="19" height="181.1" fill="rgb(248,175,225)"/>
<rect x="416" y="254" width="19" height="172.5" fill="rgb(232,120,140)"/>
<rect x="416" y="260.3" width="19" height="166.2" fill="rgb(210,100,150)"/>
<rect x="416" y="273.2" width="19" height="153.3" fill="rgb(222,152,105)"/>
<rect x="416" y="367.8" width="19" height="58.7" fill="rgb(226,155,135)"/>
<rect x="416" y="395.5" width="19" height="31" fill="rgb(222,135,145)"/>
<rect x="435" y="256.7" width="19" height="169.8" fill="rgb(234,150,165)"/>
<rect x="435" y="308.1" width="19" height="118.4" fill="rgb(222,160,110)"/>
<rect x="435" y="319.3" width="19" height="107.2" fill="rgb(222,152,105)"/>
<rect x="435" y="367.8" width="19" height="58.7" fill="rgb(226,155,135)"/>
<rect x="435" y="386.8" width="19" height="39.7" fill="rgb(222,135,145)"/>
<rect x="454" y="262.5" width="19" height="164" fill="rgb(248,235,160)"/>
<rect x="454" y="303.8" width="19" height="122.7" fill="rgb(242,182,128)"/>
<rect x="454" y="314.3" width="19" height="112.2" fill="rgb(222,152,105)"/>
<rect x="454" y="395.5" width="19" height="31" fill="rgb(220,135,115)"/>
<rect x="473" y="302.7" width="19" height="123.8" fill="rgb(248,175,225)"/>
<rect x="473" y="307.5" width="19" height="119" fill="rgb(242,182,128)"/>
<rect x="473" y="321.1" width="19" height="105.4" fill="rgb(240,165,110)"/>
<rect x="473" y="336.6" width="19" height="89.9" fill="rgb(222,152,105)"/>
<rect x="492" y="265.1" width="19" height="161.4" fill="rgb(248,175,225)"/>
<rect x="492" y="322.3" width="19" height="104.2" fill="rgb(232,120,140)"/>
<rect x="492" y="346.5" width="19" height="80" fill="rgb(210,100,150)"/>
<rect x="492" y="348.1" width="19" height="78.4" fill="rgb(222,152,105)"/>
<rect x="511" y="239.3" width="19" height="187.2" fill="rgb(248,175,225)"/>
<rect x="511" y="364.1" width="19" height="62.4" fill="rgb(232,120,140)"/>
<rect x="511" y="379.5" width="19" height="47" fill="rgb(222,152,105)"/>
<rect x="530" y="271.1" width="19" height="155.4" fill="rgb(248,175,225)"/>
<rect x="530" y="377.1" width="19" height="49.4" fill="rgb(232,120,140)"/>
<rect x="530" y="384.9" width="19" height="41.6" fill="rgb(210,100,150)"/>
<rect x="530" y="399.1" width="19" height="27.4" fill="rgb(222,152,105)"/>
<rect x="549" y="374.5" width="19" height="52" fill="rgb(248,235,160)"/>
<rect x="549" y="391.1" width="19" height="35.4" fill="rgb(240,190,110)"/>
<rect x="549" y="400.4" width="19" height="26.1" fill="rgb(222,152,105)"/>
<rect x="568" y="398.7" width="18" height="27.8" fill="rgb(248,175,225)"/>
<rect x="568" y="406.7" width="18" height="19.8" fill="rgb(222,152,105)"/>
</g>
<path d="M170 426.5 L170 409.1 Q170 405.5 173.6 405.5 L185.4 405.5 Q189 405.5 189 401.9 L189 378.6 Q189 375 192.6 375 L204.3 375 Q207.9 375 207.9 371.4 L207.9 335.1 Q207.9 331.5 211.5 331.5 L223.2 331.5 Q226.8 331.5 226.8 327.9 L226.8 307.1 Q226.8 303.5 230.4 303.5 L242.2 303.5 Q245.8 303.5 245.8 299.9 L245.8 273.8 Q245.8 270.2 249.3 270.2 L261.1 270.2 Q264.7 270.2 264.7 273.8 L264.7 277.8 Q264.7 281.4 268.3 281.4 L283.3 281.4 Q283.6 281.4 283.6 281.7 L283.6 281.7 Q283.6 282 283.9 282 L298.9 282 Q302.5 282 302.5 278.4 L302.5 233 Q302.5 229.4 306.1 229.4 L317.9 229.4 Q321.5 229.4 321.5 233 L321.5 257.1 Q321.5 260.7 325.1 260.7 L336.8 260.7 Q340.4 260.7 340.4 257.1 L340.4 232.8 Q340.4 229.2 344 229.2 L355.7 229.2 Q359.3 229.2 359.3 225.6 L359.3 198.3 Q359.3 194.7 362.9 194.7 L374.7 194.7 Q378.3 194.7 378.3 198.3 L378.3 216.2 Q378.3 219.8 381.9 219.8 L397.2 219.8" fill="none" stroke="rgba(70,90,75,.72)" stroke-width="1.1"/>
<path d="M170 426.5 L170 423.9 Q170 421.4 172.6 421.4 L185.4 421.4 Q189 421.4 189 417.8 L189 409.1 Q189 405.5 192.6 405.5 L206.5 405.5 Q207.9 405.5 207.9 404.2 L207.9 404.2 Q207.9 402.8 209.2 402.8 L223.2 402.8 Q226.8 402.8 226.8 399.2 L226.8 377 Q226.8 373.4 230.4 373.4 L242.2 373.4 Q245.8 373.4 245.8 369.8 L245.8 329.8 Q245.8 326.2 249.3 326.2 L261.1 326.2 Q264.7 326.2 264.7 322.6 L264.7 298.1 Q264.7 294.5 268.3 294.5 L280 294.5 Q283.6 294.5 283.6 290.9 L283.6 280.3 Q283.6 276.7 287.2 276.7 L298.9 276.7 Q302.5 276.7 302.5 273.1 L302.5 263.2 Q302.5 259.6 306.1 259.6 L317.9 259.6 Q321.5 259.6 321.5 263.2 L321.5 279.9 Q321.5 283.5 325.1 283.5 L336.8 283.5 Q340.4 283.5 340.4 279.9 L340.4 263.7 Q340.4 260.1 344 260.1 L355.7 260.1 Q359.3 260.1 359.3 256.5 L359.3 220 Q359.3 216.4 362.9 216.4 L374.7 216.4 Q378.3 216.4 378.3 220 L378.3 224 Q378.3 227.6 381.9 227.6 L397.2 227.6" fill="none" stroke="rgba(70,90,110,.55)" stroke-width="1.1"/>
<path d="M170 426.5 L170 420.2 Q170 416.6 173.6 416.6 L188.8 416.6 Q189 416.6 189 416.4 L189 416.4 Q189 416.3 189.1 416.3 L204.3 416.3 Q207.9 416.3 207.9 412.7 L207.9 412.2 Q207.9 408.6 211.5 408.6 L223.2 408.6 Q226.8 408.6 226.8 405 L226.8 381.5 Q226.8 377.9 230.4 377.9 L242.2 377.9 Q245.8 377.9 245.8 374.3 L245.8 356 Q245.8 352.4 249.3 352.4 L261.1 352.4 Q264.7 352.4 264.7 348.8 L264.7 330.3 Q264.7 326.7 268.3 326.7 L280 326.7 Q283.6 326.7 283.6 323.1 L283.6 310.6 Q283.6 307 287.2 307 L302.5 307" fill="none" stroke="rgba(90,80,110,.4)" stroke-width="1.1"/>
<path d="M397.2 252.9 L397.2 215.5 Q397.2 211.9 400.8 211.9 L412.5 211.9 Q416.1 211.9 416.1 215.5 L416.1 252.9" fill="none" stroke="rgba(70,90,75,.72)" stroke-width="1.1"/>
<path d="M454 303.8 L454 266.1 Q454 262.5 457.6 262.5 L469.3 262.5 Q472.9 262.5 472.9 266.1 L472.9 303.8" fill="none" stroke="rgba(70,90,75,.72)" stroke-width="1.1"/>
<path d="M548.6 400.4 L548.6 378.1 Q548.6 374.5 552.2 374.5 L564 374.5 Q567.6 374.5 567.6 378.1 L567.6 398.7" fill="none" stroke="rgba(70,90,75,.72)" stroke-width="1.1"/>
<path d="M416.1 260.3 L416.1 249 Q416.1 245.4 419.7 245.4 L431.4 245.4 Q435 245.4 435 249 L435 253.1 Q435 256.7 438.6 256.7 L450.4 256.7 Q454 256.7 454 260.3 L454 308.1" fill="none" stroke="rgba(110,70,100,.7)" stroke-width="1.1"/>
<path d="M472.9 303.8 L472.9 303.2 Q472.9 302.7 473.5 302.7 L488.2 302.7 Q491.8 302.7 491.8 299.1 L491.8 268.7 Q491.8 265.1 495.4 265.1 L507.2 265.1 Q510.8 265.1 510.8 261.5 L510.8 242.9 Q510.8 239.3 514.4 239.3 L526.1 239.3 Q529.7 239.3 529.7 242.9 L529.7 267.5 Q529.7 271.1 533.3 271.1 L545 271.1 Q548.6 271.1 548.6 274.7 L548.6 399.1" fill="none" stroke="rgba(110,70,100,.7)" stroke-width="1.1"/>
<path d="M491.8 348.1 L491.8 325.9 Q491.8 322.3 495.4 322.3 L507.2 322.3 Q510.8 322.3 510.8 325.9 L510.8 360.5 Q510.8 364.1 514.4 364.1 L526.1 364.1 Q529.7 364.1 529.7 367.7 L529.7 373.5 Q529.7 377.1 533.3 377.1 L545 377.1 Q548.6 377.1 548.6 380.7 L548.6 399.1" fill="none" stroke="rgba(120,60,90,.5)" stroke-width="1.1"/>
<path d="M416.1 273.2 L416.1 263.9 Q416.1 260.3 419.7 260.3 L431.4 260.3 Q435 260.3 435 263.9 L435 273.2" fill="none" stroke="rgba(120,60,90,.5)" stroke-width="1.1"/>
<path d="M340.4 260.1 L340.4 252.3 Q340.4 248.7 344 248.7 L355.7 248.7 Q359.3 248.7 359.3 252.3 L359.3 260.1" fill="none" stroke="rgba(120,60,90,.4)" stroke-width="1.1"/>
<path d="M340.4 282.2 L340.4 263.7 Q340.4 260.1 344 260.1 L355.7 260.1 Q359.3 260.1 359.3 263.7 L359.3 282.2" fill="none" stroke="rgba(120,60,90,.4)" stroke-width="1.1"/>
<path d="M302.5 259.6 L302.5 245.8 Q302.5 242.2 306.1 242.2 L317.9 242.2 Q321.5 242.2 321.5 245.8 L321.5 259.6" fill="none" stroke="rgba(90,90,60,.5)" stroke-width="1.1"/>
<path d="M302.5 297.1 L302.5 263.2 Q302.5 259.6 306.1 259.6 L317.9 259.6 Q321.5 259.6 321.5 263.2 L321.5 297.1" fill="none" stroke="rgba(90,90,60,.4)" stroke-width="1.1"/>
<path d="M454 314.3 L454 307.4 Q454 303.8 457.6 303.8 L471.1 303.8 Q472.9 303.8 472.9 305.6 L472.9 305.6 Q472.9 307.5 474.8 307.5 L488.2 307.5 Q491.8 307.5 491.8 311.1 L491.8 344.5 Q491.8 348.1 495.4 348.1 L507.2 348.1 Q510.8 348.1 510.8 351.7 L510.8 375.9 Q510.8 379.5 514.4 379.5 L526.1 379.5 Q529.7 379.5 529.7 383.1 L529.7 395.5 Q529.7 399.1 533.3 399.1 L548 399.1 Q548.6 399.1 548.6 399.8 L548.6 399.8 Q548.6 400.4 549.3 400.4 L564.4 400.4 Q567.6 400.4 567.6 403.5 L567.6 403.5 Q567.6 406.7 570.7 406.7 L582.9 406.7 Q586.5 406.7 586.5 410.3 L586.5 426.5" fill="none" stroke="rgba(120,90,60,.35)" stroke-width="1.1"/>
<path d="M624.4 426.5 L624.4 206.9 Q624.4 203.3 628 203.3 L639.7 203.3 Q643.3 203.3 643.3 206.9 L643.3 207.7 Q643.3 211.3 646.9 211.3 L658.6 211.3 Q662.2 211.3 662.2 214.9 L662.2 303.4 Q662.2 307 665.8 307 L677.5 307 Q681.1 307 681.1 310.6 L681.1 343.4 Q681.1 347 684.7 347 L697.1 347 Q700.1 347 700.1 349.9 L700.1 349.9 Q700.1 352.9 703 352.9 L715.4 352.9 Q719 352.9 719 356.5 L719 426.5" fill="none" stroke="rgba(90,100,70,.75)" stroke-width="1.1"/>
<path d="M567.6 406.7 L567.6 402.3 Q567.6 398.7 571.2 398.7 L583.7 398.7 Q586.5 398.7 586.5 395.9 L586.5 395.9 Q586.5 393.1 589.3 393.1 L601.8 393.1 Q605.4 393.1 605.4 389.5 L605.4 364 Q605.4 360.4 609 360.4 L620.8 360.4 Q624.4 360.4 624.4 356.8 L624.4 355.1 Q624.4 351.5 628 351.5 L639.7 351.5 Q643.3 351.5 643.3 355.1 L643.3 426.5" fill="none" stroke="rgba(110,70,100,.7)" stroke-width="1.1"/>
<path d="M775.8 426.5 L775.8 326.9 Q775.8 323.3 779.4 323.3 L791.1 323.3 Q794.7 323.3 794.7 319.7 L794.7 282.6 Q794.7 279 798.3 279 L810 279 Q813.6 279 813.6 275.4 L813.6 248.3 Q813.6 244.7 817.2 244.7 L829 244.7 Q832.6 244.7 832.6 248.3 L832.6 251.7 Q832.6 255.3 836.2 255.3 L847.9 255.3 Q851.5 255.3 851.5 258.9 L851.5 426.5" fill="none" stroke="rgba(110,70,100,.7)" stroke-width="1.1"/>
<path d="M643.3 426.5 L643.3 315.1 Q643.3 311.5 646.9 311.5 L658.6 311.5 Q662.2 311.5 662.2 307.9 L662.2 284.8 Q662.2 281.2 665.8 281.2 L677.5 281.2 Q681.1 281.2 681.1 284.8 L681.1 323.2 Q681.1 326.8 684.7 326.8 L696.5 326.8 Q700.1 326.8 700.1 323.2 L700.1 307.7 Q700.1 304.1 703.7 304.1 L715.4 304.1 Q719 304.1 719 307.7 L719 310.3 Q719 313.9 722.6 313.9 L734.3 313.9 Q737.9 313.9 737.9 310.3 L737.9 307.7 Q737.9 304.1 741.5 304.1 L753.3 304.1 Q756.9 304.1 756.9 307.7 L756.9 334.6 Q756.9 338.2 760.5 338.2 L772.5 338.2 Q775.8 338.2 775.8 341.5 L775.8 344.7" fill="none" stroke="rgba(60,80,110,.7)" stroke-width="1.1"/>
<path d="M586.5 426.5 L586.5 412.8 Q586.5 409.2 590.1 409.2 L601.8 409.2 Q605.4 409.2 605.4 412.8 L605.4 413.1 Q605.4 416.7 609 416.7 L622.2 416.7 Q624.4 416.7 624.4 418.9 L624.4 418.9 Q624.4 421.1 626.5 421.1 L640.6 421.1 Q643.3 421.1 643.3 423.8 L643.3 426.5" fill="none" stroke="rgba(90,60,110,.6)" stroke-width="1.1"/>
<path d="M719 426.5 L719 349.1 Q719 345.5 722.6 345.5 L734.3 345.5 Q737.9 345.5 737.9 341.9 L737.9 322.4 Q737.9 318.8 741.5 318.8 L753.3 318.8 Q756.9 318.8 756.9 322.4 L756.9 341.1 Q756.9 344.7 760.5 344.7 L772.2 344.7 Q775.8 344.7 775.8 348.3 L775.8 379.1 Q775.8 382.7 779.4 382.7 L791.1 382.7 Q794.7 382.7 794.7 386.3 L794.7 408.7 Q794.7 412.3 798.3 412.3 L810.7 412.3 Q813.6 412.3 813.6 415.2 L813.6 415.2 Q813.6 418.2 816.6 418.2 L830.3 418.2 Q832.6 418.2 832.6 420.4 L832.6 420.4 Q832.6 422.7 834.8 422.7 L849.6 422.7 Q851.5 422.7 851.5 424.6 L851.5 426.5" fill="none" stroke="rgba(90,60,110,.6)" stroke-width="1.1"/>
<path d="M719 426.5 L719 358.1 Q719 354.5 722.6 354.5 L734.3 354.5 Q737.9 354.5 737.9 358.1 L737.9 379.1 Q737.9 382.7 741.5 382.7 L753.3 382.7 Q756.9 382.7 756.9 386.3 L756.9 393.8 Q756.9 397.4 760.5 397.4 L772.2 397.4 Q775.8 397.4 775.8 401 L775.8 402.1 Q775.8 405.7 779.4 405.7 L791.1 405.7 Q794.7 405.7 794.7 409.3 L794.7 417 Q794.7 420.6 798.3 420.6 L811.6 420.6 Q813.6 420.6 813.6 422.6 L813.6 422.6 Q813.6 424.6 815.6 424.6 L831.6 424.6 Q832.6 424.6 832.6 425.5 L832.6 426.5" fill="none" stroke="rgba(90,60,110,.5)" stroke-width="1.1"/>
<path d="M889.4 426.5 L889.4 319.5 Q889.4 315.9 893 315.9 L905.3 315.9 Q908.3 315.9 908.3 313 L908.3 313 Q908.3 310 911.3 310 L923.6 310 Q927.2 310 927.2 306.4 L927.2 212.8 Q927.2 209.2 930.8 209.2 L945.7 209.2 Q946.2 209.2 946.2 209.7 L946.2 209.7 Q946.2 210.2 946.6 210.2 L961.5 210.2 Q965.1 210.2 965.1 213.8 L965.1 221.8 Q965.1 225.4 968.7 225.4 L980.4 225.4 Q984 225.4 984 229 L984 248 Q984 251.6 987.6 251.6 L999.4 251.6 Q1003 251.6 1003 248 L1003 240 Q1003 236.4 1006.6 236.4 L1018.3 236.4 Q1021.9 236.4 1021.9 240 L1021.9 294.6 Q1021.9 298.2 1025.5 298.2 L1037.2 298.2 Q1040.8 298.2 1040.8 301.8 L1040.8 358" fill="none" stroke="rgba(80,110,70,.75)" stroke-width="1.1"/>
<path d="M908.3 426.5 L908.3 349.1 Q908.3 345.5 911.9 345.5 L923.6 345.5 Q927.2 345.5 927.2 341.9 L927.2 319.5 Q927.2 315.9 930.8 315.9 L942.6 315.9 Q946.2 315.9 946.2 312.3 L946.2 246.7 Q946.2 243.1 949.8 243.1 L961.5 243.1 Q965.1 243.1 965.1 239.5 L965.1 228.8 Q965.1 225.2 968.7 225.2 L980.4 225.2 Q984 225.2 984 228.8 L984 284.2 Q984 287.8 987.6 287.8 L999.4 287.8 Q1003 287.8 1003 284.2 L1003 235.7 Q1003 232.1 1006.6 232.1 L1018.3 232.1 Q1021.9 232.1 1021.9 228.5 L1021.9 227.2 Q1021.9 223.6 1025.5 223.6 L1037.2 223.6 Q1040.8 223.6 1040.8 227.2 L1040.8 294.6 Q1040.8 298.2 1044.4 298.2 L1057.8 298.2 Q1059.7 298.2 1059.7 300.1 L1059.7 302" fill="none" stroke="rgba(60,80,120,.7)" stroke-width="1.1"/>
<path d="M1059.7 391.5 L1059.7 300.3 Q1059.7 296.7 1063.3 296.7 L1075.1 296.7 Q1078.7 296.7 1078.7 293.1 L1078.7 280.3 Q1078.7 276.7 1082.3 276.7 L1095.4 276.7 Q1097.6 276.7 1097.6 279 L1097.6 279 Q1097.6 281.2 1099.8 281.2 L1112.9 281.2 Q1116.5 281.2 1116.5 284.8 L1116.5 322.7 Q1116.5 326.3 1120.1 326.3 L1131.9 326.3 Q1135.5 326.3 1135.5 322.7 L1135.5 316.7 Q1135.5 313.1 1139.1 313.1 L1150.8 313.1 Q1154.4 313.1 1154.4 316.7 L1154.4 327.1 Q1154.4 330.7 1158 330.7 L1169.7 330.7 Q1173.3 330.7 1173.3 334.3 L1173.3 355.2 Q1173.3 358.8 1176.9 358.8 L1188.7 358.8 Q1192.2 358.8 1192.2 362.4 L1192.2 411.5 Q1192.2 415.1 1195.8 415.1 L1210 415.1 Q1211.2 415.1 1211.2 416.3 L1211.2 416.3 Q1211.2 417.5 1212.4 417.5 L1226.5 417.5 Q1230.1 417.5 1230.1 413.9 L1230.1 404 Q1230.1 400.4 1233.7 400.4 L1247.1 400.4 Q1249 400.4 1249 398.5 L1249 398.5 Q1249 396.6 1251 396.6 L1264.4 396.6 Q1268 396.6 1268 400.2 L1268 426.5" fill="none" stroke="rgba(110,70,100,.7)" stroke-width="1.1"/>
<path d="M1040.8 358 L1040.8 305.6 Q1040.8 302 1044.4 302 L1056.1 302 Q1059.7 302 1059.7 305.6 L1059.7 333.1 Q1059.7 336.7 1063.3 336.7 L1075.1 336.7 Q1078.7 336.7 1078.7 340.3 L1078.7 356.8 Q1078.7 360.4 1082.3 360.4 L1094.4 360.4 Q1097.6 360.4 1097.6 363.6 L1097.6 363.6 Q1097.6 366.8 1100.8 366.8 L1112.9 366.8 Q1116.5 366.8 1116.5 370.4 L1116.5 385.5 Q1116.5 389.1 1120.1 389.1 L1131.9 389.1 Q1135.5 389.1 1135.5 392.7 L1135.5 399.7 Q1135.5 403.3 1139.1 403.3 L1151.4 403.3 Q1154.4 403.3 1154.4 406.3 L1154.4 406.3 Q1154.4 409.2 1157.3 409.2 L1171.1 409.2 Q1173.3 409.2 1173.3 411.5 L1173.3 411.5 Q1173.3 413.7 1175.6 413.7 L1188.7 413.7 Q1192.2 413.7 1192.2 417.3 L1192.2 419.1 Q1192.2 422.7 1195.8 422.7 L1209.3 422.7 Q1211.2 422.7 1211.2 424.6 L1211.2 426.5" fill="none" stroke="rgba(90,60,110,.6)" stroke-width="1.1"/>
<path d="M927.2 426.5 L927.2 349.1 Q927.2 345.5 930.8 345.5 L942.6 345.5 Q946.2 345.5 946.2 341.9 L946.2 329.9 Q946.2 326.3 949.8 326.3 L962.1 326.3 Q965.1 326.3 965.1 323.4 L965.1 323.4 Q965.1 320.4 968.1 320.4 L980.4 320.4 Q984 320.4 984 316.8 L984 310.1 Q984 306.5 987.6 306.5 L999.4 306.5 Q1003 306.5 1003 310.1 L1003 355.4 Q1003 359 1006.6 359 L1018.3 359 Q1021.9 359 1021.9 355.4 L1021.9 353.6 Q1021.9 350 1025.5 350 L1037.2 350 Q1040.8 350 1040.8 353.6 L1040.8 354.4 Q1040.8 358 1044.4 358 L1056.1 358 Q1059.7 358 1059.7 361.6 L1059.7 387.9 Q1059.7 391.5 1063.3 391.5 L1075.1 391.5 Q1078.7 391.5 1078.7 395.1 L1078.7 395.4 Q1078.7 399 1082.3 399 L1094 399 Q1097.6 399 1097.6 395.4 L1097.6 395.1 Q1097.6 391.5 1101.2 391.5 L1112.9 391.5 Q1116.5 391.5 1116.5 395.1 L1116.5 399.7 Q1116.5 403.3 1120.1 403.3 L1131.9 403.3 Q1135.5 403.3 1135.5 406.9 L1135.5 414.6 Q1135.5 418.2 1139.1 418.2 L1151.4 418.2 Q1154.4 418.2 1154.4 421.1 L1154.4 421.1 Q1154.4 424.1 1157.3 424.1 L1172.1 424.1 Q1173.3 424.1 1173.3 425.3 L1173.3 426.5" fill="none" stroke="rgba(90,60,110,.5)" stroke-width="1.1"/>
<path d="M151 241.500 H1267" stroke="#c49aa6" stroke-width="1"/>
<text x="1269" y="244" font-size="9" fill="#222">100%</text>
<path d="M151.500 152 V427" stroke="#555" stroke-width="1.300"/>
<path d="M151 426.800 H1290" stroke="#666" stroke-width="1.300"/>
<path d="M151 394.5 h4" stroke="#555" stroke-width="1"/>
<path d="M151 362.5 h4" stroke="#555" stroke-width="1"/>
<path d="M151 330.5 h4" stroke="#555" stroke-width="1"/>
<path d="M151 298.5 h4" stroke="#555" stroke-width="1"/>
<path d="M151 266.5 h4" stroke="#555" stroke-width="1"/>
<path d="M151 234.5 h4" stroke="#555" stroke-width="1"/>
<path d="M151 202.5 h4" stroke="#555" stroke-width="1"/>
<path d="M151 170.5 h4" stroke="#555" stroke-width="1"/>
<path d="M170 427.500 v2" stroke="#8a8a8a" stroke-width="1"/>
<path d="M189 427.500 v2" stroke="#8a8a8a" stroke-width="1"/>
<path d="M207.9 427.500 v2" stroke="#8a8a8a" stroke-width="1"/>
<path d="M226.8 427.500 v2" stroke="#8a8a8a" stroke-width="1"/>
<path d="M245.8 427.500 v2" stroke="#8a8a8a" stroke-width="1"/>
<path d="M264.7 427.500 v2" stroke="#8a8a8a" stroke-width="1"/>
<path d="M283.6 427.500 v2" stroke="#8a8a8a" stroke-width="1"/>
<path d="M302.5 427.500 v2" stroke="#8a8a8a" stroke-width="1"/>
<path d="M321.5 427.500 v2" stroke="#8a8a8a" stroke-width="1"/>
<path d="M340.4 427.500 v2" stroke="#8a8a8a" stroke-width="1"/>
<path d="M359.3 427.500 v2" stroke="#8a8a8a" stroke-width="1"/>
<path d="M378.3 427.500 v2" stroke="#8a8a8a" stroke-width="1"/>
<path d="M397.2 427.500 v2" stroke="#8a8a8a" stroke-width="1"/>
<path d="M416.1 427.500 v2" stroke="#8a8a8a" stroke-width="1"/>
<path d="M435 427.500 v2" stroke="#8a8a8a" stroke-width="1"/>
<path d="M454 427.500 v2" stroke="#8a8a8a" stroke-width="1"/>
<path d="M472.9 427.500 v2" stroke="#8a8a8a" stroke-width="1"/>
<path d="M491.8 427.500 v2" stroke="#8a8a8a" stroke-width="1"/>
<path d="M510.8 427.500 v2" stroke="#8a8a8a" stroke-width="1"/>
<path d="M529.7 427.500 v2" stroke="#8a8a8a" stroke-width="1"/>
<path d="M548.6 427.500 v2" stroke="#8a8a8a" stroke-width="1"/>
<path d="M567.6 427.500 v2" stroke="#8a8a8a" stroke-width="1"/>
<path d="M586.5 427.500 v2" stroke="#8a8a8a" stroke-width="1"/>
<path d="M605.4 427.500 v2" stroke="#8a8a8a" stroke-width="1"/>
<path d="M624.4 427.500 v2" stroke="#8a8a8a" stroke-width="1"/>
<path d="M643.3 427.500 v2" stroke="#8a8a8a" stroke-width="1"/>
<path d="M662.2 427.500 v2" stroke="#8a8a8a" stroke-width="1"/>
<path d="M681.1 427.500 v2" stroke="#8a8a8a" stroke-width="1"/>
<path d="M700.1 427.500 v2" stroke="#8a8a8a" stroke-width="1"/>
<path d="M719 427.500 v2" stroke="#8a8a8a" stroke-width="1"/>
<path d="M737.9 427.500 v2" stroke="#8a8a8a" stroke-width="1"/>
<path d="M756.9 427.500 v2" stroke="#8a8a8a" stroke-width="1"/>
<path d="M775.8 427.500 v2" stroke="#8a8a8a" stroke-width="1"/>
<path d="M794.7 427.500 v2" stroke="#8a8a8a" stroke-width="1"/>
<path d="M813.6 427.500 v2" stroke="#8a8a8a" stroke-width="1"/>
<path d="M832.6 427.500 v2" stroke="#8a8a8a" stroke-width="1"/>
<path d="M851.5 427.500 v2" stroke="#8a8a8a" stroke-width="1"/>
<path d="M870.4 427.500 v2" stroke="#8a8a8a" stroke-width="1"/>
<path d="M889.4 427.500 v2" stroke="#8a8a8a" stroke-width="1"/>
<path d="M908.3 427.500 v2" stroke="#8a8a8a" stroke-width="1"/>
<path d="M927.2 427.500 v2" stroke="#8a8a8a" stroke-width="1"/>
<path d="M946.2 427.500 v2" stroke="#8a8a8a" stroke-width="1"/>
<path d="M965.1 427.500 v2" stroke="#8a8a8a" stroke-width="1"/>
<path d="M984 427.500 v2" stroke="#8a8a8a" stroke-width="1"/>
<path d="M1003 427.500 v2" stroke="#8a8a8a" stroke-width="1"/>
<path d="M1021.9 427.500 v2" stroke="#8a8a8a" stroke-width="1"/>
<path d="M1040.8 427.500 v2" stroke="#8a8a8a" stroke-width="1"/>
<path d="M1059.7 427.500 v2" stroke="#8a8a8a" stroke-width="1"/>
<path d="M1078.7 427.500 v2" stroke="#8a8a8a" stroke-width="1"/>
<path d="M1097.6 427.500 v2" stroke="#8a8a8a" stroke-width="1"/>
<path d="M1116.5 427.500 v2" stroke="#8a8a8a" stroke-width="1"/>
<path d="M1135.5 427.500 v2" stroke="#8a8a8a" stroke-width="1"/>
<path d="M1154.4 427.500 v2" stroke="#8a8a8a" stroke-width="1"/>
<path d="M1173.3 427.500 v2" stroke="#8a8a8a" stroke-width="1"/>
<path d="M1192.2 427.500 v2" stroke="#8a8a8a" stroke-width="1"/>
<path d="M1211.2 427.500 v2" stroke="#8a8a8a" stroke-width="1"/>
<path d="M1230.1 427.500 v2" stroke="#8a8a8a" stroke-width="1"/>
<path d="M1249 427.500 v2" stroke="#8a8a8a" stroke-width="1"/>
<text x="169.5" y="438.300" font-size="9.500" fill="#333" text-anchor="middle">51</text>
<text x="207.4" y="438.300" font-size="9.500" fill="#333" text-anchor="middle">1</text>
<text x="245.2" y="438.300" font-size="9.500" fill="#333" text-anchor="middle">3</text>
<text x="283.1" y="438.300" font-size="9.500" fill="#333" text-anchor="middle">5</text>
<text x="321" y="438.300" font-size="9.500" fill="#333" text-anchor="middle">7</text>
<text x="358.8" y="438.300" font-size="9.500" fill="#333" text-anchor="middle">9</text>
<text x="396.7" y="438.300" font-size="9.500" fill="#333" text-anchor="middle">11</text>
<text x="434.5" y="438.300" font-size="9.500" fill="#333" text-anchor="middle">13</text>
<text x="472.4" y="438.300" font-size="9.500" fill="#333" text-anchor="middle">15</text>
<text x="510.3" y="438.300" font-size="9.500" fill="#333" text-anchor="middle">17</text>
<text x="548.1" y="438.300" font-size="9.500" fill="#333" text-anchor="middle">19</text>
<text x="586" y="438.300" font-size="9.500" fill="#333" text-anchor="middle">21</text>
<text x="623.9" y="438.300" font-size="9.500" fill="#333" text-anchor="middle">23</text>
<text x="661.7" y="438.300" font-size="9.500" fill="#333" text-anchor="middle">25</text>
<text x="699.6" y="438.300" font-size="9.500" fill="#333" text-anchor="middle">27</text>
<text x="737.4" y="438.300" font-size="9.500" fill="#333" text-anchor="middle">29</text>
<text x="775.3" y="438.300" font-size="9.500" fill="#333" text-anchor="middle">31</text>
<text x="813.1" y="438.300" font-size="9.500" fill="#333" text-anchor="middle">33</text>
<text x="851" y="438.300" font-size="9.500" fill="#333" text-anchor="middle">35</text>
<text x="888.9" y="438.300" font-size="9.500" fill="#333" text-anchor="middle">37</text>
<text x="926.7" y="438.300" font-size="9.500" fill="#333" text-anchor="middle">39</text>
<text x="964.6" y="438.300" font-size="9.500" fill="#333" text-anchor="middle">41</text>
<text x="1002.5" y="438.300" font-size="9.500" fill="#333" text-anchor="middle">43</text>
<text x="1040.3" y="438.300" font-size="9.500" fill="#333" text-anchor="middle">45</text>
<text x="1078.2" y="438.300" font-size="9.500" fill="#333" text-anchor="middle">47</text>
<text x="1116" y="438.300" font-size="9.500" fill="#333" text-anchor="middle">49</text>
<text x="1153.9" y="438.300" font-size="9.500" fill="#333" text-anchor="middle">51</text>
<text x="1191.8" y="438.300" font-size="9.500" fill="#333" text-anchor="middle">53</text>
<text x="1229.6" y="438.300" font-size="9.500" fill="#333" text-anchor="middle">2</text>
<text x="151" y="453.500" font-size="9" fill="#9a9a9a">8 décembre 2014</text>
<text x="1268" y="453.500" font-size="9" fill="#9a9a9a" text-anchor="end">24 janvier 2016</text>
<text x="709.500" y="455" font-size="11.5" fill="#222" text-anchor="middle">Semaines</text>
<rect x="152" y="464.3" width="23" height="2.300" fill="#eef3a8"/>
<rect x="152" y="468.9" width="23" height="2.300" fill="#a9c4ee"/>
<rect x="152" y="473.5" width="23" height="2.300" fill="#f5b0de"/>
<rect x="152" y="478.1" width="23" height="2.300" fill="#c9a2ee"/>
<rect x="152" y="482.7" width="23" height="2.300" fill="#f3c6a8"/>
<text x="183" y="476" font-size="9" fill="#222">Rusty Firecracker</text>
<rect x="264" y="464.3" width="23" height="2.300" fill="#c9f2a0"/>
<rect x="264" y="468.9" width="23" height="2.300" fill="#b0b6ee"/>
<rect x="264" y="473.5" width="23" height="2.300" fill="#f5b0de"/>
<rect x="264" y="478.1" width="23" height="2.300" fill="#e6a2e0"/>
<rect x="264" y="482.7" width="23" height="2.300" fill="#f1cfa6"/>
<text x="295" y="476" font-size="9" fill="#222">Crystal Insane</text>
<rect x="364" y="464.3" width="23" height="2.300" fill="#b6f2a0"/>
<rect x="364" y="468.9" width="23" height="2.300" fill="#a9a9ee"/>
<rect x="364" y="473.5" width="23" height="2.300" fill="#f5b0d6"/>
<rect x="364" y="478.1" width="23" height="2.300" fill="#e89aa0"/>
<rect x="364" y="482.7" width="23" height="2.300" fill="#f1f3a0"/>
<text x="395" y="476" font-size="9" fill="#222">Supersonic Lama</text>
<rect x="478" y="464.3" width="23" height="2.300" fill="#aef29a"/>
<rect x="478" y="468.9" width="23" height="2.300" fill="#a0a9ee"/>
<rect x="478" y="473.5" width="23" height="2.300" fill="#f5b0d6"/>
<rect x="478" y="478.1" width="23" height="2.300" fill="#e88a90"/>
<rect x="478" y="482.7" width="23" height="2.300" fill="#f3f7a0"/>
<text x="510" y="476" font-size="9" fill="#222">Brown Gamma</text>
</svg>
<div class="abs" style="left:110px;top:492px;width:1182px;height:25px;border:1px solid #e2e2e2;background:#fff"></div>
<svg class="abs" style="left:123px;top:498.500px" width="12" height="12" viewBox="0 0 12 12"><rect x="0.500" y="0.500" width="11" height="11" fill="#fff" stroke="#333"/><path d="M2.500 6 L4.800 8.300 L9.500 3.300" fill="none" stroke="#222" stroke-width="1.200"/></svg>
<div class="side" style="left:141px;top:498px">Plus tôt</div>
<svg class="abs" style="left:241px;top:498.500px" width="12" height="12" viewBox="0 0 12 12"><rect x="0.500" y="0.500" width="11" height="11" fill="#fff" stroke="#333"/><path d="M2.500 6 L4.800 8.300 L9.500 3.300" fill="none" stroke="#222" stroke-width="1.200"/></svg>
<div class="side" style="left:258.5px;top:498px">Planifié</div>
<svg class="abs" style="left:358px;top:498.500px" width="12" height="12" viewBox="0 0 12 12"><rect x="0.500" y="0.500" width="11" height="11" fill="#fff" stroke="#333"/><path d="M2.500 6 L4.800 8.300 L9.500 3.300" fill="none" stroke="#222" stroke-width="1.200"/></svg>
<div class="side" style="left:375.5px;top:498px">Plus tard</div>
<svg class="abs" style="left:475px;top:498.500px" width="12" height="12" viewBox="0 0 12 12"><rect x="0.500" y="0.500" width="11" height="11" fill="#fff" stroke="#333"/><path d="M2.500 6 L4.800 8.300 L9.500 3.300" fill="none" stroke="#222" stroke-width="1.200"/></svg>
<div class="side" style="left:492px;top:498px">Effectuées</div>
<svg class="abs" style="left:592px;top:498.500px" width="12" height="12" viewBox="0 0 12 12"><rect x="0.500" y="0.500" width="11" height="11" fill="#fff" stroke="#333"/><path d="M2.500 6 L4.800 8.300 L9.500 3.300" fill="none" stroke="#222" stroke-width="1.200"/></svg>
<div class="side" style="left:609.5px;top:498px">Valeur acquise</div>
<div class="abs" style="left:110px;top:520px;width:1186px;height:235px;background:#fff;border-top:1px solid #dcdcdc;border-left:1px solid #dcdcdc"></div>
<div class="abs" style="left:111px;top:521px;width:1169px;height:20px;background:linear-gradient(#fff,#f7f7f7);border-bottom:1px solid #d2d2d2"></div>
<div class="cell" style="left:137px;top:522px;width:71px;display:flex;justify-content:center;overflow:hidden"><span>N° Semaine</span></div>
<div class="cell" style="left:209px;top:522px;width:72px;display:flex;justify-content:center;overflow:hidden"><span>Du:</span></div>
<div class="cell" style="left:282px;top:522px;width:71px;display:flex;justify-content:center;overflow:hidden"><span>Aux:</span></div>
<div class="cell" style="left:354px;top:522px;width:72px;display:flex;justify-content:center;overflow:hidden"><span>Plutôt [h]</span></div>
<div class="cell" style="left:427px;top:522px;width:71px;display:flex;justify-content:center;overflow:hidden"><span>Σ Plutôt [h]</span></div>
<div class="cell" style="left:499px;top:522px;width:88px;display:flex;justify-content:center;overflow:hidden"><span>Planifié [h]</span></div>
<div class="cell" style="left:588px;top:522px;width:90px;display:flex;justify-content:center;overflow:hidden"><span>Σ Planifié [h]</span></div>
<div class="cell" style="left:679px;top:522px;width:70px;display:flex;justify-content:center;overflow:hidden"><span>Plus tard [h]</span></div>
<div class="cell" style="left:750px;top:522px;width:71px;display:flex;justify-content:center;overflow:hidden"><span>Σ Plus tard [h]</span></div>
<div class="cell" style="left:822px;top:522px;width:71px;display:flex;justify-content:center;overflow:hidden"><span>Effectuées [h]</span></div>
<div class="cell" style="left:894px;top:522px;width:71px;display:flex;justify-content:center;overflow:hidden"><span>Σ Effectuées [h]</span></div>
<div class="cell" style="left:966px;top:522px;width:90px;display:flex;justify-content:center;overflow:hidden"><span>Valeur acquise (hr)</span></div>
<div class="cell" style="left:1057px;top:522px;width:88px;display:flex;justify-content:center;overflow:hidden"><span>Σ Valeur acquise (hr)</span></div>
<div class="abs" style="left:136px;top:521px;width:1px;height:219px;background:#f0f0f0"></div>
<div class="abs" style="left:208px;top:521px;width:1px;height:219px;background:#f0f0f0"></div>
<div class="abs" style="left:281px;top:521px;width:1px;height:219px;background:#f0f0f0"></div>
<div class="abs" style="left:353px;top:521px;width:1px;height:219px;background:#f0f0f0"></div>
<div class="abs" style="left:426px;top:521px;width:1px;height:219px;background:#f0f0f0"></div>
<div class="abs" style="left:498px;top:521px;width:1px;height:219px;background:#f0f0f0"></div>
<div class="abs" style="left:587px;top:521px;width:1px;height:219px;background:#f0f0f0"></div>
<div class="abs" style="left:678px;top:521px;width:1px;height:219px;background:#f0f0f0"></div>
<div class="abs" style="left:749px;top:521px;width:1px;height:219px;background:#f0f0f0"></div>
<div class="abs" style="left:821px;top:521px;width:1px;height:219px;background:#f0f0f0"></div>
<div class="abs" style="left:893px;top:521px;width:1px;height:219px;background:#f0f0f0"></div>
<div class="abs" style="left:965px;top:521px;width:1px;height:219px;background:#f0f0f0"></div>
<div class="abs" style="left:1056px;top:521px;width:1px;height:219px;background:#f0f0f0"></div>
<div class="abs" style="left:1145px;top:521px;width:1px;height:219px;background:#f0f0f0"></div>
<div class="abs" style="left:112px;top:542px;width:24px;height:17px;background:#d2d2d2"></div>
<div class="cell" style="left:113px;top:542px;color:#444">1</div>
<div class="abs" style="left:136px;top:559px;width:1010px;height:1px;background:#f0f0f0"></div>
<div class="cell" style="left:136px;top:542px;width:72px;text-align:center">50</div>
<div class="cell" style="left:208px;top:542px;width:73px;text-align:center">08/12/2014</div>
<div class="cell" style="left:281px;top:542px;width:72px;text-align:center">14/12/2014</div>
<div class="cell" style="left:353px;top:542px;width:68px;text-align:right">0,0</div>
<div class="cell" style="left:426px;top:542px;width:67px;text-align:right">0,0</div>
<div class="cell" style="left:498px;top:542px;width:84px;text-align:right">0,0</div>
<div class="cell" style="left:587px;top:542px;width:86px;text-align:right">0,0</div>
<div class="cell" style="left:678px;top:542px;width:66px;text-align:right">0,0</div>
<div class="cell" style="left:749px;top:542px;width:67px;text-align:right">0,0</div>
<div class="cell" style="left:821px;top:542px;width:67px;text-align:right">0,0</div>
<div class="cell" style="left:893px;top:542px;width:67px;text-align:right">0,0</div>
<div class="cell" style="left:965px;top:542px;width:86px;text-align:right">0,0</div>
<div class="cell" style="left:1056px;top:542px;width:84px;text-align:right">0,0</div>
<div class="abs" style="left:112px;top:560px;width:24px;height:17px;background:#d2d2d2"></div>
<div class="cell" style="left:113px;top:560px;color:#444">2</div>
<div class="abs" style="left:136px;top:577px;width:1010px;height:1px;background:#f0f0f0"></div>
<div class="cell" style="left:136px;top:560px;width:72px;text-align:center">51</div>
<div class="cell" style="left:208px;top:560px;width:73px;text-align:center">15/12/2014</div>
<div class="cell" style="left:281px;top:560px;width:72px;text-align:center">21/12/2014</div>
<div class="cell" style="left:353px;top:560px;width:68px;text-align:right">130,7</div>
<div class="cell" style="left:426px;top:560px;width:67px;text-align:right">130,7</div>
<div class="cell" style="left:498px;top:560px;width:84px;text-align:right">32,0</div>
<div class="cell" style="left:587px;top:560px;width:86px;text-align:right">32,0</div>
<div class="cell" style="left:678px;top:560px;width:66px;text-align:right">0,0</div>
<div class="cell" style="left:749px;top:560px;width:67px;text-align:right">0,0</div>
<div class="cell" style="left:821px;top:560px;width:67px;text-align:right">64,0</div>
<div class="cell" style="left:893px;top:560px;width:67px;text-align:right">64,0</div>
<div class="cell" style="left:965px;top:560px;width:86px;text-align:right">18,3</div>
<div class="cell" style="left:1056px;top:560px;width:84px;text-align:right">18,3</div>
<div class="abs" style="left:112px;top:578px;width:24px;height:17px;background:#d2d2d2"></div>
<div class="cell" style="left:113px;top:578px;color:#444">3</div>
<div class="abs" style="left:136px;top:595px;width:1010px;height:1px;background:#f0f0f0"></div>
<div class="cell" style="left:136px;top:578px;width:72px;text-align:center">52</div>
<div class="cell" style="left:208px;top:578px;width:73px;text-align:center">22/12/2014</div>
<div class="cell" style="left:281px;top:578px;width:72px;text-align:center">28/12/2014</div>
<div class="cell" style="left:353px;top:578px;width:68px;text-align:right">321,9</div>
<div class="cell" style="left:426px;top:578px;width:67px;text-align:right">452,5</div>
<div class="cell" style="left:498px;top:578px;width:84px;text-align:right">130,7</div>
<div class="cell" style="left:587px;top:578px;width:86px;text-align:right">162,7</div>
<div class="cell" style="left:678px;top:578px;width:66px;text-align:right">0,0</div>
<div class="cell" style="left:749px;top:578px;width:67px;text-align:right">0,0</div>
<div class="cell" style="left:821px;top:578px;width:67px;text-align:right">64,0</div>
<div class="cell" style="left:893px;top:578px;width:67px;text-align:right">128,0</div>
<div class="cell" style="left:965px;top:578px;width:86px;text-align:right">93,7</div>
<div class="cell" style="left:1056px;top:578px;width:84px;text-align:right">112,0</div>
<div class="abs" style="left:112px;top:596px;width:24px;height:17px;background:#d2d2d2"></div>
<div class="cell" style="left:113px;top:596px;color:#444">4</div>
<div class="abs" style="left:136px;top:613px;width:1010px;height:1px;background:#f0f0f0"></div>
<div class="cell" style="left:136px;top:596px;width:72px;text-align:center">1</div>
<div class="cell" style="left:208px;top:596px;width:73px;text-align:center">29/12/2014</div>
<div class="cell" style="left:281px;top:596px;width:72px;text-align:center">04/01/2015</div>
<div class="cell" style="left:353px;top:596px;width:68px;text-align:right">593,7</div>
<div class="cell" style="left:426px;top:596px;width:67px;text-align:right">1046,2</div>
<div class="cell" style="left:498px;top:596px;width:84px;text-align:right">147,7</div>
<div class="cell" style="left:587px;top:596px;width:86px;text-align:right">310,4</div>
<div class="cell" style="left:678px;top:596px;width:66px;text-align:right">56,0</div>
<div class="cell" style="left:749px;top:596px;width:67px;text-align:right">56,0</div>
<div class="cell" style="left:821px;top:596px;width:67px;text-align:right">112,0</div>
<div class="cell" style="left:893px;top:596px;width:67px;text-align:right">240,0</div>
<div class="cell" style="left:965px;top:596px;width:86px;text-align:right">96,0</div>
<div class="cell" style="left:1056px;top:596px;width:84px;text-align:right">208,0</div>
<div class="abs" style="left:112px;top:614px;width:24px;height:17px;background:#d2d2d2"></div>
<div class="cell" style="left:113px;top:614px;color:#444">5</div>
<div class="abs" style="left:136px;top:631px;width:1010px;height:1px;background:#f0f0f0"></div>
<div class="cell" style="left:136px;top:614px;width:72px;text-align:center">2</div>
<div class="cell" style="left:208px;top:614px;width:73px;text-align:center">05/01/2015</div>
<div class="cell" style="left:281px;top:614px;width:72px;text-align:center">11/01/2015</div>
<div class="cell" style="left:353px;top:614px;width:68px;text-align:right">769,2</div>
<div class="cell" style="left:426px;top:614px;width:67px;text-align:right">1815,4</div>
<div class="cell" style="left:498px;top:614px;width:84px;text-align:right">332,5</div>
<div class="cell" style="left:587px;top:614px;width:86px;text-align:right">642,9</div>
<div class="cell" style="left:678px;top:614px;width:66px;text-align:right">154,4</div>
<div class="cell" style="left:749px;top:614px;width:67px;text-align:right">210,4</div>
<div class="cell" style="left:821px;top:614px;width:67px;text-align:right">304,0</div>
<div class="cell" style="left:893px;top:614px;width:67px;text-align:right">544,0</div>
<div class="cell" style="left:965px;top:614px;width:86px;text-align:right">178,6</div>
<div class="cell" style="left:1056px;top:614px;width:84px;text-align:right">386,6</div>
<div class="abs" style="left:112px;top:632px;width:24px;height:17px;background:#d2d2d2"></div>
<div class="cell" style="left:113px;top:632px;color:#444">6</div>
<div class="abs" style="left:136px;top:649px;width:1010px;height:1px;background:#f0f0f0"></div>
<div class="cell" style="left:136px;top:632px;width:72px;text-align:center">3</div>
<div class="cell" style="left:208px;top:632px;width:73px;text-align:center">12/01/2015</div>
<div class="cell" style="left:281px;top:632px;width:72px;text-align:center">18/01/2015</div>
<div class="cell" style="left:353px;top:632px;width:68px;text-align:right">976,5</div>
<div class="cell" style="left:426px;top:632px;width:67px;text-align:right">2791,9</div>
<div class="cell" style="left:498px;top:632px;width:84px;text-align:right">627,4</div>
<div class="cell" style="left:587px;top:632px;width:86px;text-align:right">1270,3</div>
<div class="cell" style="left:678px;top:632px;width:66px;text-align:right">136,1</div>
<div class="cell" style="left:749px;top:632px;width:67px;text-align:right">346,5</div>
<div class="cell" style="left:821px;top:632px;width:67px;text-align:right">456,0</div>
<div class="cell" style="left:893px;top:632px;width:67px;text-align:right">1000,0</div>
<div class="cell" style="left:965px;top:632px;width:86px;text-align:right">518,0</div>
<div class="cell" style="left:1056px;top:632px;width:84px;text-align:right">904,6</div>
<div class="abs" style="left:112px;top:650px;width:24px;height:17px;background:#d2d2d2"></div>
<div class="cell" style="left:113px;top:650px;color:#444">7</div>
<div class="abs" style="left:136px;top:667px;width:1010px;height:1px;background:#f0f0f0"></div>
<div class="cell" style="left:136px;top:650px;width:72px;text-align:center">4</div>
<div class="cell" style="left:208px;top:650px;width:73px;text-align:center">19/01/2015</div>
<div class="cell" style="left:281px;top:650px;width:72px;text-align:center">25/01/2015</div>
<div class="cell" style="left:353px;top:650px;width:68px;text-align:right">907,2</div>
<div class="cell" style="left:426px;top:650px;width:67px;text-align:right">3699,1</div>
<div class="cell" style="left:498px;top:650px;width:84px;text-align:right">824,7</div>
<div class="cell" style="left:587px;top:650px;width:86px;text-align:right">2095,0</div>
<div class="cell" style="left:678px;top:650px;width:66px;text-align:right">216,9</div>
<div class="cell" style="left:749px;top:650px;width:67px;text-align:right">563,4</div>
<div class="cell" style="left:821px;top:650px;width:67px;text-align:right">616,0</div>
<div class="cell" style="left:893px;top:650px;width:67px;text-align:right">1616,0</div>
<div class="cell" style="left:965px;top:650px;width:86px;text-align:right">712,9</div>
<div class="cell" style="left:1056px;top:650px;width:84px;text-align:right">1617,5</div>
<div class="abs" style="left:112px;top:668px;width:24px;height:17px;background:#d2d2d2"></div>
<div class="cell" style="left:113px;top:668px;color:#444">8</div>
<div class="abs" style="left:136px;top:685px;width:1010px;height:1px;background:#f0f0f0"></div>
<div class="cell" style="left:136px;top:668px;width:72px;text-align:center">5</div>
<div class="cell" style="left:208px;top:668px;width:73px;text-align:center">26/01/2015</div>
<div class="cell" style="left:281px;top:668px;width:72px;text-align:center">01/02/2015</div>
<div class="cell" style="left:353px;top:668px;width:68px;text-align:right">903,1</div>
<div class="cell" style="left:426px;top:668px;width:67px;text-align:right">4602,2</div>
<div class="cell" style="left:498px;top:668px;width:84px;text-align:right">940,0</div>
<div class="cell" style="left:587px;top:668px;width:86px;text-align:right">3035,0</div>
<div class="cell" style="left:678px;top:668px;width:66px;text-align:right">257,6</div>
<div class="cell" style="left:749px;top:668px;width:67px;text-align:right">821,0</div>
<div class="cell" style="left:821px;top:668px;width:67px;text-align:right">744,0</div>
<div class="cell" style="left:893px;top:668px;width:67px;text-align:right">2360,0</div>
<div class="cell" style="left:965px;top:668px;width:86px;text-align:right">775,4</div>
<div class="cell" style="left:1056px;top:668px;width:84px;text-align:right">2393,0</div>
<div class="abs" style="left:112px;top:686px;width:24px;height:17px;background:#d2d2d2"></div>
<div class="cell" style="left:113px;top:686px;color:#444">9</div>
<div class="abs" style="left:136px;top:703px;width:1010px;height:1px;background:#f0f0f0"></div>
<div class="cell" style="left:136px;top:686px;width:72px;text-align:center">6</div>
<div class="cell" style="left:208px;top:686px;width:73px;text-align:center">02/02/2015</div>
<div class="cell" style="left:281px;top:686px;width:72px;text-align:center">08/02/2015</div>
<div class="cell" style="left:353px;top:686px;width:68px;text-align:right">1231,7</div>
<div class="cell" style="left:426px;top:686px;width:67px;text-align:right">5833,9</div>
<div class="cell" style="left:498px;top:686px;width:84px;text-align:right">1043,1</div>
<div class="cell" style="left:587px;top:686px;width:86px;text-align:right">4078,1</div>
<div class="cell" style="left:678px;top:686px;width:66px;text-align:right">638,2</div>
<div class="cell" style="left:749px;top:686px;width:67px;text-align:right">1459,2</div>
<div class="cell" style="left:821px;top:686px;width:67px;text-align:right">808,0</div>
<div class="cell" style="left:893px;top:686px;width:67px;text-align:right">3168,0</div>
<div class="cell" style="left:965px;top:686px;width:86px;text-align:right">1152,5</div>
<div class="cell" style="left:1056px;top:686px;width:84px;text-align:right">3545,4</div>
<div class="abs" style="left:112px;top:704px;width:24px;height:17px;background:#d2d2d2"></div>
<div class="cell" style="left:113px;top:704px;color:#444">10</div>
<div class="abs" style="left:136px;top:721px;width:1010px;height:1px;background:#f0f0f0"></div>
<div class="cell" style="left:136px;top:704px;width:72px;text-align:center">7</div>
<div class="cell" style="left:208px;top:704px;width:73px;text-align:center">09/02/2015</div>
<div class="cell" style="left:281px;top:704px;width:72px;text-align:center">15/02/2015</div>
<div class="cell" style="left:353px;top:704px;width:68px;text-align:right">1035,6</div>
<div class="cell" style="left:426px;top:704px;width:67px;text-align:right">6869,5</div>
<div class="cell" style="left:498px;top:704px;width:84px;text-align:right">889,1</div>
<div class="cell" style="left:587px;top:704px;width:86px;text-align:right">4967,2</div>
<div class="cell" style="left:678px;top:704px;width:66px;text-align:right">895,8</div>
<div class="cell" style="left:749px;top:704px;width:67px;text-align:right">2355,0</div>
<div class="cell" style="left:821px;top:704px;width:67px;text-align:right">952,0</div>
<div class="cell" style="left:893px;top:704px;width:67px;text-align:right">4120,0</div>
<div class="cell" style="left:965px;top:704px;width:86px;text-align:right">942,3</div>
<div class="cell" style="left:1056px;top:704px;width:84px;text-align:right">4487,8</div>
<div class="abs" style="left:112px;top:722px;width:24px;height:17px;background:#d2d2d2"></div>
<div class="cell" style="left:113px;top:722px;color:#444">11</div>
<div class="abs" style="left:136px;top:739px;width:1010px;height:1px;background:#f0f0f0"></div>
<div class="cell" style="left:136px;top:722px;width:72px;text-align:center">8</div>
<div class="cell" style="left:208px;top:722px;width:73px;text-align:center">16/02/2015</div>
<div class="cell" style="left:281px;top:722px;width:72px;text-align:center">22/02/2015</div>
<div class="cell" style="left:353px;top:722px;width:68px;text-align:right">1233,3</div>
<div class="cell" style="left:426px;top:722px;width:67px;text-align:right">8102,8</div>
<div class="cell" style="left:498px;top:722px;width:84px;text-align:right">1030,7</div>
<div class="cell" style="left:587px;top:722px;width:86px;text-align:right">5997,9</div>
<div class="cell" style="left:678px;top:722px;width:66px;text-align:right">1110,9</div>
<div class="cell" style="left:749px;top:722px;width:67px;text-align:right">3465,9</div>
<div class="cell" style="left:821px;top:722px;width:67px;text-align:right">1040,0</div>
<div class="cell" style="left:893px;top:722px;width:67px;text-align:right">5160,0</div>
<div class="cell" style="left:965px;top:722px;width:86px;text-align:right">900,6</div>
<div class="cell" style="left:1056px;top:722px;width:84px;text-align:right">5388,4</div>
<div class="abs" style="left:1280px;top:520px;width:13px;height:221px;background:#f0f0f0"></div>
<div class="abs" style="left:1280px;top:534px;width:13px;height:37px;background:#cdcdcd"></div>
<svg class="abs" style="left:1282px;top:524px" width="9" height="6" viewBox="0 0 9 6"><path d="M1 5 L4.500 1.500 L8 5" fill="none" stroke="#444" stroke-width="1.400"/></svg>
<svg class="abs" style="left:1282px;top:731px" width="9" height="6" viewBox="0 0 9 6"><path d="M1 1 L4.500 4.500 L8 1" fill="none" stroke="#444" stroke-width="1.400"/></svg>
<div class="abs" style="left:111px;top:741px;width:1169px;height:14px;background:#f0f0f0"></div>
<svg class="abs" style="left:114px;top:743px" width="6" height="9" viewBox="0 0 6 9"><path d="M5 1 L1.500 4.500 L5 8" fill="none" stroke="#b0b0b0" stroke-width="1.200"/></svg>
<svg class="abs" style="left:1270px;top:743px" width="6" height="9" viewBox="0 0 6 9"><path d="M1 1 L4.500 4.500 L1 8" fill="none" stroke="#b8b8b8" stroke-width="1.200"/></svg>
<svg class="abs" style="left:846px;top:618px" width="12" height="19" viewBox="0 0 12 19"><path d="M1 1 L1 15 L4.200 12 L6.500 17.500 L8.500 16.600 L6.200 11.300 L10.500 11.300Z" fill="#fff" stroke="#111" stroke-width="1"/></svg>
<div id="status">
<span style="left:4px">Nombre:</span>
<span style="left:81px">De:</span>
<span style="left:102px">15/12/14</span>
<span style="left:164px">à:</span>
<span style="left:176px">25/01/16</span>
<span style="left:244px">Sélection:</span>
<span style="left:296.5px">1523</span>
<span style="left:325px">Progress:</span>
<span style="left:380px">0 %</span>
<span style="left:405px">Retard:</span>
<span style="left:444px">15233 h</span>
<span style="left:52px;font-weight:normal">400</span>
<i style="left:77px"></i>
<i style="left:158px"></i>
<i style="left:239px"></i>
<i style="left:320px"></i>
<i style="left:401px"></i>
<i style="left:482px"></i>
<i style="left:563px"></i>
</div>
<div id="taskbar">
<div class="abs" style="left:0;top:0;width:43px;height:36px;background:#0b3560"></div>
<div class="abs" style="left:43px;top:0;width:310px;height:36px;background:#2f4d6a"></div>
<div class="abs" style="left:54px;top:10px;font-size:13.3px;color:#a9b8c8;white-space:nowrap">Search the web and Windows</div>
<svg class="abs" style="left:14px;top:11px" width="16" height="16" viewBox="0 0 16 16"><path d="M0 2.200 L6.500 1.300 V7.500 H0Z M7.500 1.150 L16 0 V7.500 H7.500Z M0 8.500 H6.500 V14.700 L0 13.800Z M7.500 8.500 H16 V16 L7.500 14.850Z" fill="#fff"/></svg>
<svg class="abs" style="left:0;top:0" width="1296" height="36" viewBox="0 0 1296 36" font-family="Liberation Sans, sans-serif">
<rect x="883" y="0" width="43" height="36" fill="#1a4676"/>
<rect x="446" y="34" width="36" height="2" fill="#86b8ea"/>
<rect x="710" y="34" width="36" height="2" fill="#86b8ea"/>
<rect x="883" y="34" width="43" height="2" fill="#86b8ea"/>
<g fill="none" stroke="#fff" stroke-width="1.300"><rect x="368.500" y="11.500" width="11" height="11"/><path d="M366.500 13.500h-2.500v7h2.500 M381.500 13.500h2.500v7h-2.500"/></g>
<path d="M411.500 18.500 C411.500 12 416 8.500 421 8.500 C426.500 8.500 429.500 12.500 429.500 17 V19 H417.500 C417.800 22 420 23.500 423 23.500 C425.500 23.500 427.500 22.800 429 22 V25.800 C427.300 26.800 425 27.500 422 27.500 C416 27.500 412.500 23.500 412.500 19 C412.500 15.500 415 13 418 12 C416.500 13.300 416 15 416 16 H424.500 C424.500 13.500 423 12 420.500 12 C416.500 12 413 14.500 411.500 18.500Z" fill="#2a8be6"/>
<path d="M453.500 10h7l1.500 1.500h11.500v13h-20z" fill="#f5c84c"/><rect x="453.500" y="13" width="20" height="11.500" fill="#fbe17a"/><path d="M457 24.500v-6.500h13v6.500h-3.500v-3h-6v3z" fill="#3fa3e8"/><rect x="455" y="16" width="17" height="2.500" fill="#59b5f0"/>
<path d="M498.500 13h17l-1 14h-15z" fill="#fff"/><path d="M503 13 C503 7.500 511 7.500 511 13" fill="none" stroke="#fff" stroke-width="1.300"/><path d="M502.500 17l3.800-.5v3.700h-3.800z M507.300 16.350l4.700-.65v4.500h-4.700z M502.500 21.200h3.800v3.700l-3.800-.5z M507.300 21.200h4.700v4.500l-4.700-.65z" fill="#0d2e50"/>
<path d="M545 8h9l5 5v15h-14z" fill="#fff"/><path d="M554 8v5h5z" fill="#d8d8d8"/><rect x="542.500" y="13" width="5.500" height="5" fill="#e8412c" transform="rotate(-12 545 15)"/><rect x="549" y="11.500" width="5.500" height="5" fill="#69b53a" transform="rotate(-12 552 14)"/><rect x="543.500" y="19" width="5.500" height="5" fill="#2f7fe0" transform="rotate(-12 546 21)"/><rect x="550" y="17.500" width="5.500" height="5" fill="#f5c221" transform="rotate(-12 553 20)"/>
<g transform="translate(596 18) scale(1.1)"><circle cx="0" cy="0" r="10" fill="#f28c28"/><path d="M-10 -1 A10 10 0 0 1 10 -1 Q4 4 -2 2.500 Q-7 1.500 -10 -1Z" fill="#fff"/><path d="M-8.500 -5 L-2 1.500 M-5.500 -8.300 L-0.500 1.500 M-1.500 -9.800 L1 1.500 M3 -9.500 L2.500 1.500 M7 -7 L4 1" stroke="#26303c" stroke-width="1.700" fill="none"/><path d="M-10 0 Q-3 5 3 2.500 Q7 1 10 -2 A10 10 0 0 1 -10 0Z" fill="#f28c28"/><path d="M-9 2 Q-2 7 9 0" stroke="#fbd3a6" stroke-width="1" fill="none"/></g>
<rect x="630.500" y="9" width="19" height="17.500" rx="2" fill="#c9c9c9"/><rect x="632" y="10" width="16" height="14" fill="#4a4437"/><text x="640" y="22" font-size="13" font-weight="bold" fill="#f2a52c" text-anchor="middle">S</text>
<rect x="673.500" y="10.500" width="20" height="15.500" fill="#050505" stroke="#8a8a8a" stroke-width="1"/><rect x="674" y="11" width="19" height="2.500" fill="#5a5a5a"/><path d="M676 16.500h3.500 M676 19h2.500 M680.500 19h4" stroke="#ddd" stroke-width="1"/>
<circle cx="728" cy="18.500" r="10" fill="#e2443a"/><path d="M728 18.500 L719.340 13.500 A10 10 0 0 0 723 27.160 Z" fill="#2fa54a"/><path d="M728 18.500 L723 27.160 A10 10 0 0 0 736.660 13.500 L728 13.500Z" fill="#f8c928"/><path d="M728 18.500 L736.660 13.500 A10 10 0 0 0 719.340 13.500Z" fill="#e2443a"/><path d="M719.340 13.500 L728 18.500 L723 27.160 A10 10 0 0 1 719.340 13.500Z" fill="#2fa54a"/><circle cx="728" cy="18.500" r="4.600" fill="#fff"/><circle cx="728" cy="18.500" r="3.600" fill="#4a8af4"/>
<g transform="translate(771 0)"><rect x="-10" y="8" width="19" height="15" fill="#e9eef5"/><rect x="-10" y="8" width="19" height="2.500" fill="#2f6fd0"/><rect x="-8" y="12" width="4" height="4" fill="#e6b422"/><rect x="-3" y="12" width="4" height="4" fill="#3d7fe0"/><rect x="2" y="12" width="4" height="4" fill="#5cb54a"/><rect x="-8" y="17.500" width="4" height="4" fill="#5cb54a"/><rect x="-3" y="17.500" width="4" height="4" fill="#e6b422"/><circle cx="5.500" cy="19" r="5" fill="#d6ecf0" stroke="#cfd8dc" stroke-width="1.200"/><path d="M1.500 23.500l-4.500 5" stroke="#d9822b" stroke-width="2.500"/></g>
<g transform="translate(815 0)"><rect x="-10" y="8" width="19" height="15" fill="#e9eef5"/><rect x="-10" y="8" width="19" height="2.500" fill="#2f6fd0"/><rect x="-8" y="12" width="4" height="4" fill="#e6b422"/><rect x="-3" y="12" width="4" height="4" fill="#3d7fe0"/><rect x="2" y="12" width="4" height="4" fill="#5cb54a"/><rect x="-8" y="17.500" width="4" height="4" fill="#5cb54a"/><rect x="-3" y="17.500" width="4" height="4" fill="#e6b422"/><circle cx="5.500" cy="19" r="5" fill="#d6ecf0" stroke="#cfd8dc" stroke-width="1.200"/><path d="M1.500 23.500l-4.500 5" stroke="#d9822b" stroke-width="2.500"/></g>
<rect x="850" y="9" width="20" height="15" fill="#fbfbfb" stroke="#b9c4cf" stroke-width="1"/><path d="M852 13l1.300 1.500 2.200-3 M852 18l1.300 1.500 2.200-3" stroke="#39a845" stroke-width="1.300" fill="none"/><path d="M858 12.500h9 M858 17.500h5" stroke="#9fb0c0" stroke-width="1"/><circle cx="865.500" cy="21" r="3.600" fill="#f0a020"/><path d="M863.500 23.500v5l2-1.500 2 1.500v-5z" fill="#2f6fd0"/>
<g transform="translate(905 18) scale(1.1)"><circle cx="0" cy="0" r="10" fill="#f28c28"/><path d="M-10 -1 A10 10 0 0 1 10 -1 Q4 4 -2 2.500 Q-7 1.500 -10 -1Z" fill="#fff"/><path d="M-8.500 -5 L-2 1.500 M-5.500 -8.300 L-0.500 1.500 M-1.500 -9.800 L1 1.500 M3 -9.500 L2.500 1.500 M7 -7 L4 1" stroke="#26303c" stroke-width="1.700" fill="none"/><path d="M-10 0 Q-3 5 3 2.500 Q7 1 10 -2 A10 10 0 0 1 -10 0Z" fill="#f28c28"/><path d="M-9 2 Q-2 7 9 0" stroke="#fbd3a6" stroke-width="1" fill="none"/></g>
<path d="M1118 20.500l5-5 5 5" fill="none" stroke="#fff" stroke-width="1.400"/>
<g fill="none" stroke="#fff" stroke-width="1.100"><rect x="1140.500" y="14.500" width="10" height="6.500"/><path d="M1150.500 16.500h1.500v2.500h-1.500"/><path d="M1138 12.500h4v3 M1139 11v1.500 M1141 11v1.500"/></g><rect x="1141.500" y="15.500" width="7" height="4.500" fill="#fff"/>
<g fill="none" stroke="#fff" stroke-width="1.200"><rect x="1161.500" y="12.500" width="10" height="8"/><path d="M1166.500 20.500v3.500 M1163 24.500h7"/><rect x="1159.500" y="11" width="4" height="4" fill="#0d2e50"/></g>
<path d="M1181.500 16.500h2.500l3-3v10l-3-3h-2.500z" fill="none" stroke="#fff" stroke-width="1.100"/><path d="M1189 16 q1.500 2.500 0 5 M1191 14 q3 4.500 0 9 M1193 12.500 q4 6 0 12" fill="none" stroke="#fff" stroke-width="1"/>
<path d="M1203 12.500h13v10h-4.500l-2 2.500-2-2.500h-4.500z" fill="#fff"/><path d="M1205.500 15.500h8 M1205.500 17.500h8 M1205.500 19.500h5" stroke="#0d2e50" stroke-width="1"/>
<text x="1256" y="13.500" font-size="10.500" fill="#fff" text-anchor="middle" letter-spacing="-0.300">16:50</text>
<text x="1256" y="28.500" font-size="10.500" fill="#fff" text-anchor="middle" letter-spacing="-0.150">22/02/2016</text>
<rect x="1290" y="0" width="1" height="36" fill="#4a6380"/>
</svg>
</div>
</body></html>
